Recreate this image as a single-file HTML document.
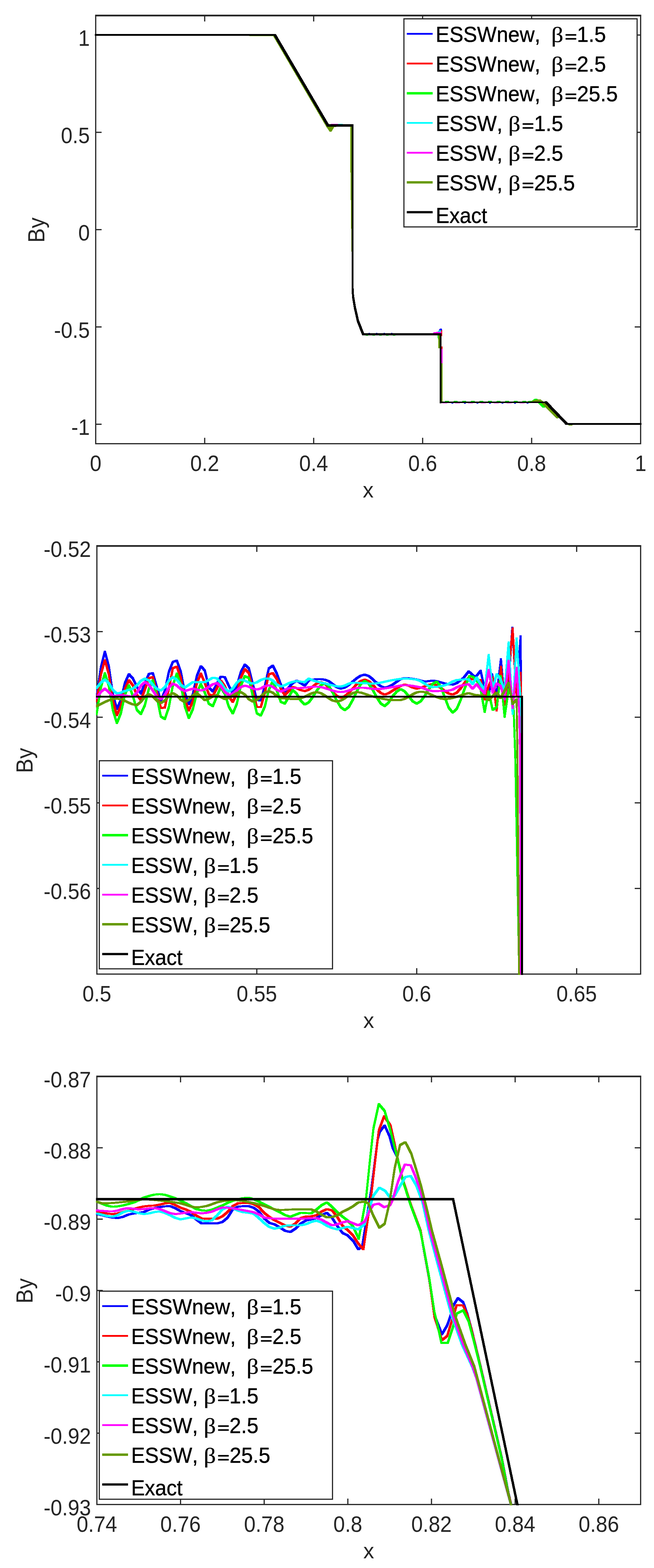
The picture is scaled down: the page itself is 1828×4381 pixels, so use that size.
<!DOCTYPE html>
<html lang="en">
<head>
<meta charset="utf-8">
<title>By profiles: ESSWnew vs ESSW vs Exact</title>
<style>
html,body{margin:0;padding:0;background:#ffffff;}
body{width:1828px;height:4381px;}
svg{display:block;}
text{white-space:pre;font-kerning:none;font-variant-ligatures:none;}
</style>
</head>
<body>
<svg width="1828" height="4381" viewBox="0 0 1828 4381">
<rect x="0" y="0" width="1828" height="4381" fill="#ffffff"/>
<clipPath id="clip1"><rect x="265.00" y="41.00" width="1528.10" height="1201.20"/></clipPath>
<g stroke="#262626" stroke-width="3.3" fill="none" stroke-linecap="butt">
<rect x="267.50" y="43.50" width="1523.10" height="1196.20"/>
<line x1="265.90" y1="43.40" x2="1792.20" y2="43.40" stroke-width="4.7"/>
<line x1="572.12" y1="1239.70" x2="572.12" y2="1223.20"/>
<line x1="572.12" y1="43.50" x2="572.12" y2="60.00"/>
<line x1="876.74" y1="1239.70" x2="876.74" y2="1223.20"/>
<line x1="876.74" y1="43.50" x2="876.74" y2="60.00"/>
<line x1="1181.36" y1="1239.70" x2="1181.36" y2="1223.20"/>
<line x1="1181.36" y1="43.50" x2="1181.36" y2="60.00"/>
<line x1="1485.98" y1="1239.70" x2="1485.98" y2="1223.20"/>
<line x1="1485.98" y1="43.50" x2="1485.98" y2="60.00"/>
<line x1="267.50" y1="97.87" x2="284.00" y2="97.87"/>
<line x1="1790.60" y1="97.87" x2="1774.10" y2="97.87"/>
<line x1="267.50" y1="369.74" x2="284.00" y2="369.74"/>
<line x1="1790.60" y1="369.74" x2="1774.10" y2="369.74"/>
<line x1="267.50" y1="641.60" x2="284.00" y2="641.60"/>
<line x1="1790.60" y1="641.60" x2="1774.10" y2="641.60"/>
<line x1="267.50" y1="913.46" x2="284.00" y2="913.46"/>
<line x1="1790.60" y1="913.46" x2="1774.10" y2="913.46"/>
<line x1="267.50" y1="1185.33" x2="284.00" y2="1185.33"/>
<line x1="1790.60" y1="1185.33" x2="1774.10" y2="1185.33"/>
</g>
<text transform="translate(267.50 1315.90) scale(1 1.07)" font-family="'Liberation Sans', sans-serif" font-size="58.1" text-anchor="middle" fill="#262626">0</text>
<text transform="translate(572.12 1315.90) scale(1 1.07)" font-family="'Liberation Sans', sans-serif" font-size="58.1" text-anchor="middle" fill="#262626">0.2</text>
<text transform="translate(876.74 1315.90) scale(1 1.07)" font-family="'Liberation Sans', sans-serif" font-size="58.1" text-anchor="middle" fill="#262626">0.4</text>
<text transform="translate(1181.36 1315.90) scale(1 1.07)" font-family="'Liberation Sans', sans-serif" font-size="58.1" text-anchor="middle" fill="#262626">0.6</text>
<text transform="translate(1485.98 1315.90) scale(1 1.07)" font-family="'Liberation Sans', sans-serif" font-size="58.1" text-anchor="middle" fill="#262626">0.8</text>
<text transform="translate(1790.60 1315.90) scale(1 1.07)" font-family="'Liberation Sans', sans-serif" font-size="58.1" text-anchor="middle" fill="#262626">1</text>
<text transform="translate(251.00 127.97) scale(1 1.07)" font-family="'Liberation Sans', sans-serif" font-size="58.1" text-anchor="end" fill="#262626">1</text>
<text transform="translate(251.00 399.84) scale(1 1.07)" font-family="'Liberation Sans', sans-serif" font-size="58.1" text-anchor="end" fill="#262626">0.5</text>
<text transform="translate(251.00 671.70) scale(1 1.07)" font-family="'Liberation Sans', sans-serif" font-size="58.1" text-anchor="end" fill="#262626">0</text>
<text transform="translate(251.00 943.56) scale(1 1.07)" font-family="'Liberation Sans', sans-serif" font-size="58.1" text-anchor="end" fill="#262626">-0.5</text>
<text transform="translate(251.00 1215.43) scale(1 1.07)" font-family="'Liberation Sans', sans-serif" font-size="58.1" text-anchor="end" fill="#262626">-1</text>
<text transform="translate(1029.05 1390.10) scale(1 1.01)" font-family="'Liberation Sans', sans-serif" font-size="60.5" text-anchor="middle" fill="#262626">x</text>
<text transform="translate(124.30 642.80) rotate(-90) scale(1 1.075)" font-family="'Liberation Sans', sans-serif" font-size="60.5" text-anchor="middle" fill="#262626">By</text>
<g clip-path="url(#clip1)" fill="none" stroke-linejoin="round" stroke-linecap="butt" shape-rendering="crispEdges">
<path d="M1215.2,928.9L1224.2,926.7L1229.8,926.7L1229.8,932.1L1220.8,934.3L1215.2,934.3ZM1224.2,926.7L1229.8,917.8L1235.4,917.8L1235.4,923.2L1229.8,932.1L1224.2,932.1ZM1229.8,917.8L1235.4,917.8L1236,933.3L1236,938.7L1230.4,938.7L1229.8,923.2Z" fill="#0000ff" stroke="none"/>
<polyline points="1030,932.3 1112,932.3" stroke="#0000ff" stroke-width="5.6" stroke-dasharray="4 17"/>
<polyline points="1262,1125.2 1478,1125.2" stroke="#0000ff" stroke-width="4.6" stroke-dasharray="5 30"/>
<path d="M1219.2,928.7L1226.2,925.3L1231.8,925.3L1231.8,930.7L1224.8,934.1L1219.2,934.1ZM1226.2,925.3L1230.8,923.3L1236.4,923.3L1236.4,928.7L1231.8,930.7L1226.2,930.7ZM1230.8,923.3L1236.4,923.3L1236.4,938.7L1230.8,938.7Z" fill="#ff0000" stroke="none"/>
<path d="M1231,968.3L1236.6,968.3L1236.6,982.7L1231,982.7Z" fill="#ff0000" stroke="none"/>
<path d="M1475.2,1120.7L1487.2,1119.5L1492.8,1119.5L1492.8,1124.9L1480.8,1126.1L1475.2,1126.1ZM1487.2,1119.5L1494.8,1113.5L1500.4,1113.5L1500.4,1118.9L1492.8,1124.9L1487.2,1124.9ZM1494.8,1113.5L1500.4,1113.5L1506.3,1117.8L1506.3,1123.2L1500.7,1123.2L1494.8,1118.9ZM1500.7,1117.8L1506.3,1117.8L1513.8,1125.8L1513.8,1131.2L1508.2,1131.2L1500.7,1123.2ZM1508.2,1125.8L1513.8,1125.8L1522,1133.5L1522,1138.9L1516.4,1138.9L1508.2,1131.2ZM1516.4,1133.5L1524.2,1130.8L1529.8,1130.8L1529.8,1136.2L1522,1138.9L1516.4,1138.9Z" fill="#00ff00" stroke="none"/>
<path d="M1222.7,933.8L1228.3,933.8L1229.8,942.3L1229.8,947.7L1224.2,947.7L1222.7,939.2Z" fill="#00ff00" stroke="none"/>
<polyline points="1244,1122.9 1478,1122.9" stroke="#00ff00" stroke-width="5" stroke-dasharray="11 13"/>
<polyline points="1022,935 1112,935" stroke="#00ff00" stroke-width="5.6" stroke-dasharray="7 12"/>
<path d="M939.2,345.7L950.3,345.7L950.3,351.1L939.2,351.1Z" fill="#00ffff" stroke="none"/>
<path d="M946.7,345.7L958.3,345.7L958.3,351.1L946.7,351.1Z" fill="#00ffff" stroke="none"/>
<path d="M1221.2,927.8L1226.7,922.8L1232.3,922.8L1232.3,928.2L1226.8,933.2L1221.2,933.2ZM1226.7,922.8L1232.3,922.8L1233.8,928.3L1233.8,933.7L1228.2,933.7L1226.7,928.2Z" fill="#00ffff" stroke="none"/>
<polyline points="1236,1125 1470,1125" stroke="#ff00ff" stroke-width="4.6" stroke-dasharray="14 22"/>
<path d="M924.7,345.6L944.8,345.6L944.8,351L924.7,351Z" fill="#ff00ff" stroke="none"/>
<path d="M1211.2,928.7L1224.2,926.8L1229.8,926.8L1229.8,932.2L1216.8,934.1L1211.2,934.1ZM1224.2,926.8L1233.8,926.8L1233.8,932.2L1224.2,932.2Z" fill="#ff00ff" stroke="none"/>
<path d="M1231,975.3L1236.6,975.3L1236.6,1020.7L1231,1020.7Z" fill="#ff00ff" stroke="none"/>
<path d="M697.2,95.9L769.2,95.9L769.2,101.3L697.2,101.3ZM763.6,95.9L769.2,95.9L917.8,349.3L917.8,354.7L912.2,354.7L763.6,101.3ZM912.2,349.3L917.8,349.3L926.8,362.3L926.8,367.7L921.2,367.7L912.2,354.7ZM921.2,362.3L928.7,349.3L934.3,349.3L934.3,354.7L926.8,367.7L921.2,367.7ZM928.7,349.3L957.2,348.3L962.8,348.3L962.8,353.7L934.3,354.7L928.7,354.7Z" fill="#669900" stroke="none"/>
<path d="M915.7,351.8L921.3,351.8L926.8,358.3L926.8,363.7L921.2,363.7L915.7,357.2ZM921.2,358.3L926.2,351.8L931.8,351.8L931.8,357.2L926.8,363.7L921.2,363.7Z" fill="#669900" stroke="none"/>
<path d="M978.5,348.3L984.1,348.3L985,467.3L985,472.7L979.4,472.7L978.5,353.7ZM979.4,467.3L985,467.3L987,622.3L987,627.7L981.4,627.7L979.4,472.7ZM981.4,622.3L987,622.3L987.8,697.3L987.8,702.7L982.2,702.7L981.4,627.7Z" fill="#669900" stroke="none"/>
<path d="M1225.4,933.3L1231,933.3L1231.1,967.3L1231.1,972.7L1225.5,972.7L1225.4,938.7Z" fill="#669900" stroke="none"/>
<path d="M1231.1,1015.3L1236.7,1015.3L1236.7,1124.7L1231.1,1124.7Z" fill="#669900" stroke="none"/>
<path d="M1485.2,1120.9L1497.2,1116.7L1502.8,1116.7L1502.8,1122.1L1490.8,1126.3L1485.2,1126.3ZM1497.2,1116.7L1505.2,1115.7L1510.8,1115.7L1510.8,1121.1L1502.8,1122.1L1497.2,1122.1ZM1505.2,1115.7L1510.8,1115.7L1518.8,1121.8L1518.8,1127.2L1513.2,1127.2L1505.2,1121.1ZM1513.2,1121.8L1518.8,1121.8L1526.1,1128.3L1526.1,1133.7L1520.5,1133.7L1513.2,1127.2ZM1520.5,1128.3L1526.1,1128.3L1560.8,1163.8L1560.8,1169.2L1555.2,1169.2L1520.5,1133.7Z" fill="#669900" stroke="none"/>
<path d="M1589.2,1183.9L1599.8,1183.9L1599.8,1189.3L1589.2,1189.3Z" fill="#669900" stroke="none"/>
<path d="M264.7,95.2L771,95.2L771,100L264.7,100ZM765.4,94.8L771,94.8L919.5,347.8L919.5,353.2L913.9,353.2L765.4,100.3ZM913.9,347.4L988.2,347.4L988.2,353.6L913.9,353.6ZM982.8,347.8L988,347.8L988.1,802.2L988.1,807.8L982.9,807.8L982.8,353.2ZM982.7,802.2L988.3,802.2L989.7,826.2L989.7,831.8L984.1,831.8L982.7,807.8ZM984.1,826.2L989.7,826.2L994.5,855.2L994.5,860.8L988.9,860.8L984.1,831.8ZM988.9,855.2L994.5,855.2L1003.3,894.2L1003.3,899.8L997.7,899.8L988.9,860.8ZM997.7,894.2L1003.3,894.2L1017.8,930.9L1017.8,936.4L1012.2,936.4L997.7,899.8ZM1012.2,930.5L1234.1,930.5L1234.1,936.7L1012.2,936.7ZM1228.8,930.9L1233.8,930.9L1233.8,1126.8L1228.8,1126.8ZM1228.5,1121.8L1528.8,1121.8L1528.8,1126.2L1228.5,1126.2ZM1523.2,1121.2L1528.8,1121.2L1586.8,1181.8L1586.8,1187.3L1581.2,1187.3L1523.2,1126.8ZM1581.2,1182L1793.4,1182L1793.4,1187.2L1581.2,1187.2Z" fill="#000000" stroke="none"/>
</g>
<rect x="1129.00" y="52.60" width="651.80" height="581.40" fill="#fff" stroke="#262626" stroke-width="3.2"/>
<g>
<line x1="1137.00" y1="94.40" x2="1209.30" y2="94.40" stroke="#0000ff" stroke-width="5"/>
<text transform="translate(1217.85 116.80) scale(0.9977 1.0445)" font-family="'Liberation Sans', sans-serif" font-size="58" fill="#000" stroke="#000" stroke-width="0.62231" stroke-linejoin="round">ESSWnew,  </text>
<text transform="translate(1540.70 116.83) scale(1.1498 1.0341)" font-family="'Liberation Serif', serif" font-size="58" fill="#000" stroke="#000" stroke-width="0.434844" stroke-linejoin="round">β</text>
<text transform="translate(1578.76 116.79) scale(1.0043 0.7383)" font-family="'Liberation Sans', sans-serif" font-size="58" fill="#000" stroke="#000" stroke-width="1.69271" stroke-linejoin="round">=</text>
<text transform="translate(1612.53 116.80) scale(1.0000 1.0510)" font-family="'Liberation Sans', sans-serif" font-size="58.5" fill="#000" stroke="#000" stroke-width="0.618458" stroke-linejoin="round">1.5</text>
</g>
<g>
<line x1="1137.00" y1="177.60" x2="1209.30" y2="177.60" stroke="#ff0000" stroke-width="5"/>
<text transform="translate(1217.85 200.00) scale(0.9977 1.0445)" font-family="'Liberation Sans', sans-serif" font-size="58" fill="#000" stroke="#000" stroke-width="0.62231" stroke-linejoin="round">ESSWnew,  </text>
<text transform="translate(1540.70 200.03) scale(1.1498 1.0341)" font-family="'Liberation Serif', serif" font-size="58" fill="#000" stroke="#000" stroke-width="0.434844" stroke-linejoin="round">β</text>
<text transform="translate(1578.76 199.99) scale(1.0043 0.7383)" font-family="'Liberation Sans', sans-serif" font-size="58" fill="#000" stroke="#000" stroke-width="1.69271" stroke-linejoin="round">=</text>
<text transform="translate(1612.53 200.00) scale(1.0000 1.0356)" font-family="'Liberation Sans', sans-serif" font-size="58.5" fill="#000" stroke="#000" stroke-width="0.627675" stroke-linejoin="round">2.5</text>
</g>
<g>
<line x1="1137.00" y1="260.60" x2="1209.30" y2="260.60" stroke="#00ff00" stroke-width="6.8"/>
<text transform="translate(1217.85 283.00) scale(0.9977 1.0445)" font-family="'Liberation Sans', sans-serif" font-size="58" fill="#000" stroke="#000" stroke-width="0.62231" stroke-linejoin="round">ESSWnew,  </text>
<text transform="translate(1540.70 283.03) scale(1.1498 1.0341)" font-family="'Liberation Serif', serif" font-size="58" fill="#000" stroke="#000" stroke-width="0.434844" stroke-linejoin="round">β</text>
<text transform="translate(1578.76 282.99) scale(1.0043 0.7383)" font-family="'Liberation Sans', sans-serif" font-size="58" fill="#000" stroke="#000" stroke-width="1.69271" stroke-linejoin="round">=</text>
<text transform="translate(1613.00 283.00) scale(1.0000 1.0356)" font-family="'Liberation Sans', sans-serif" font-size="58.5" fill="#000" stroke="#000" stroke-width="0.627675" stroke-linejoin="round">25.5</text>
</g>
<g>
<line x1="1137.00" y1="343.40" x2="1209.30" y2="343.40" stroke="#00ffff" stroke-width="4.9"/>
<text transform="translate(1217.84 365.80) scale(0.9997 1.0445)" font-family="'Liberation Sans', sans-serif" font-size="58" fill="#000" stroke="#000" stroke-width="0.62231" stroke-linejoin="round">ESSW, </text>
<text transform="translate(1420.80 365.83) scale(1.1498 1.0341)" font-family="'Liberation Serif', serif" font-size="58" fill="#000" stroke="#000" stroke-width="0.434844" stroke-linejoin="round">β</text>
<text transform="translate(1458.86 365.79) scale(1.0043 0.7383)" font-family="'Liberation Sans', sans-serif" font-size="58" fill="#000" stroke="#000" stroke-width="1.69271" stroke-linejoin="round">=</text>
<text transform="translate(1492.63 365.80) scale(1.0000 1.0510)" font-family="'Liberation Sans', sans-serif" font-size="58.5" fill="#000" stroke="#000" stroke-width="0.618458" stroke-linejoin="round">1.5</text>
</g>
<g>
<line x1="1137.00" y1="426.80" x2="1209.30" y2="426.80" stroke="#ff00ff" stroke-width="4.9"/>
<text transform="translate(1217.84 449.20) scale(0.9997 1.0445)" font-family="'Liberation Sans', sans-serif" font-size="58" fill="#000" stroke="#000" stroke-width="0.62231" stroke-linejoin="round">ESSW, </text>
<text transform="translate(1420.80 449.23) scale(1.1498 1.0341)" font-family="'Liberation Serif', serif" font-size="58" fill="#000" stroke="#000" stroke-width="0.434844" stroke-linejoin="round">β</text>
<text transform="translate(1458.86 449.19) scale(1.0043 0.7383)" font-family="'Liberation Sans', sans-serif" font-size="58" fill="#000" stroke="#000" stroke-width="1.69271" stroke-linejoin="round">=</text>
<text transform="translate(1492.63 449.20) scale(1.0000 1.0356)" font-family="'Liberation Sans', sans-serif" font-size="58.5" fill="#000" stroke="#000" stroke-width="0.627675" stroke-linejoin="round">2.5</text>
</g>
<g>
<line x1="1137.00" y1="509.50" x2="1209.30" y2="509.50" stroke="#669900" stroke-width="6.6"/>
<text transform="translate(1217.84 531.90) scale(0.9997 1.0445)" font-family="'Liberation Sans', sans-serif" font-size="58" fill="#000" stroke="#000" stroke-width="0.62231" stroke-linejoin="round">ESSW, </text>
<text transform="translate(1420.80 531.93) scale(1.1498 1.0341)" font-family="'Liberation Serif', serif" font-size="58" fill="#000" stroke="#000" stroke-width="0.434844" stroke-linejoin="round">β</text>
<text transform="translate(1458.86 531.89) scale(1.0043 0.7383)" font-family="'Liberation Sans', sans-serif" font-size="58" fill="#000" stroke="#000" stroke-width="1.69271" stroke-linejoin="round">=</text>
<text transform="translate(1493.10 531.90) scale(1.0000 1.0356)" font-family="'Liberation Sans', sans-serif" font-size="58.5" fill="#000" stroke="#000" stroke-width="0.627675" stroke-linejoin="round">25.5</text>
</g>
<g>
<line x1="1137.00" y1="592.80" x2="1209.30" y2="592.80" stroke="#000000" stroke-width="6.3"/>
<text transform="translate(1217.89 622.80) scale(0.9909 1.0601)" font-family="'Liberation Sans', sans-serif" font-size="58" fill="#000" stroke="#000" stroke-width="0.613172" stroke-linejoin="round">Exact</text>
</g>
<clipPath id="clip2"><rect x="268.30" y="1523.00" width="1524.80" height="1201.10"/></clipPath>
<g stroke="#262626" stroke-width="3.3" fill="none" stroke-linecap="butt">
<rect x="270.80" y="1525.50" width="1519.80" height="1196.10"/>
<line x1="269.20" y1="1525.40" x2="1792.20" y2="1525.40" stroke-width="4.7"/>
<line x1="717.80" y1="2721.60" x2="717.80" y2="2705.10"/>
<line x1="717.80" y1="1525.50" x2="717.80" y2="1542.00"/>
<line x1="1164.80" y1="2721.60" x2="1164.80" y2="2705.10"/>
<line x1="1164.80" y1="1525.50" x2="1164.80" y2="1542.00"/>
<line x1="1611.80" y1="2721.60" x2="1611.80" y2="2705.10"/>
<line x1="1611.80" y1="1525.50" x2="1611.80" y2="1542.00"/>
<line x1="270.80" y1="1764.72" x2="287.30" y2="1764.72"/>
<line x1="1790.60" y1="1764.72" x2="1774.10" y2="1764.72"/>
<line x1="270.80" y1="2003.94" x2="287.30" y2="2003.94"/>
<line x1="1790.60" y1="2003.94" x2="1774.10" y2="2003.94"/>
<line x1="270.80" y1="2243.16" x2="287.30" y2="2243.16"/>
<line x1="1790.60" y1="2243.16" x2="1774.10" y2="2243.16"/>
<line x1="270.80" y1="2482.38" x2="287.30" y2="2482.38"/>
<line x1="1790.60" y1="2482.38" x2="1774.10" y2="2482.38"/>
</g>
<text transform="translate(270.80 2797.80) scale(1 1.07)" font-family="'Liberation Sans', sans-serif" font-size="58.1" text-anchor="middle" fill="#262626">0.5</text>
<text transform="translate(717.80 2797.80) scale(1 1.07)" font-family="'Liberation Sans', sans-serif" font-size="58.1" text-anchor="middle" fill="#262626">0.55</text>
<text transform="translate(1164.80 2797.80) scale(1 1.07)" font-family="'Liberation Sans', sans-serif" font-size="58.1" text-anchor="middle" fill="#262626">0.6</text>
<text transform="translate(1611.80 2797.80) scale(1 1.07)" font-family="'Liberation Sans', sans-serif" font-size="58.1" text-anchor="middle" fill="#262626">0.65</text>
<text transform="translate(254.30 1555.60) scale(1 1.07)" font-family="'Liberation Sans', sans-serif" font-size="58.1" text-anchor="end" fill="#262626">-0.52</text>
<text transform="translate(254.30 1794.82) scale(1 1.07)" font-family="'Liberation Sans', sans-serif" font-size="58.1" text-anchor="end" fill="#262626">-0.53</text>
<text transform="translate(254.30 2034.04) scale(1 1.07)" font-family="'Liberation Sans', sans-serif" font-size="58.1" text-anchor="end" fill="#262626">-0.54</text>
<text transform="translate(254.30 2273.26) scale(1 1.07)" font-family="'Liberation Sans', sans-serif" font-size="58.1" text-anchor="end" fill="#262626">-0.55</text>
<text transform="translate(254.30 2512.48) scale(1 1.07)" font-family="'Liberation Sans', sans-serif" font-size="58.1" text-anchor="end" fill="#262626">-0.56</text>
<text transform="translate(1030.70 2872.00) scale(1 1.01)" font-family="'Liberation Sans', sans-serif" font-size="60.5" text-anchor="middle" fill="#262626">x</text>
<text transform="translate(90.60 2124.75) rotate(-90) scale(1 1.075)" font-family="'Liberation Sans', sans-serif" font-size="60.5" text-anchor="middle" fill="#262626">By</text>
<g clip-path="url(#clip2)" fill="none" stroke-linejoin="round" stroke-linecap="butt" shape-rendering="crispEdges">
<path d="M267,1945L268,1939.1L273.6,1939.1L273.6,1944.5L272.6,1950.4L267,1950.4ZM268,1939.1L279.2,1862.1L284.8,1862.1L284.8,1867.5L273.6,1944.5L268,1944.5ZM279.2,1862.1L290.4,1818L296,1818L296,1823.4L284.8,1867.5L279.2,1867.5ZM290.4,1818L296,1818L307.1,1859.6L307.1,1865L301.5,1865L290.4,1823.4ZM301.5,1859.6L307.1,1859.6L318.3,1936.9L318.3,1942.3L312.7,1942.3L301.5,1865ZM312.7,1936.9L318.3,1936.9L329.5,1978.5L329.5,1983.9L323.9,1983.9L312.7,1942.3ZM323.9,1978.5L335.1,1953.1L340.7,1953.1L340.7,1958.5L329.5,1983.9L323.9,1983.9ZM335.1,1953.1L346.2,1906.1L351.8,1906.1L351.8,1911.5L340.7,1958.5L335.1,1958.5ZM346.2,1906.1L357.4,1880.8L363,1880.8L363,1886.2L351.8,1911.5L346.2,1911.5ZM357.4,1880.8L363,1880.8L374.2,1892.8L374.2,1898.2L368.6,1898.2L357.4,1886.2ZM368.6,1892.8L374.2,1892.8L385.4,1915.9L385.4,1921.3L379.8,1921.3L368.6,1898.2ZM379.8,1915.9L385.4,1915.9L396.5,1935.2L396.5,1940.6L390.9,1940.6L379.8,1921.3ZM390.9,1935.2L402.1,1906.8L407.7,1906.8L407.7,1912.2L396.5,1940.6L390.9,1940.6ZM402.1,1906.8L413.3,1880.3L418.9,1880.3L418.9,1885.7L407.7,1912.2L402.1,1912.2ZM413.3,1880.3L424.4,1878L430,1878L430,1883.4L418.9,1885.7L413.3,1885.7ZM424.4,1878L430,1878L441.2,1917.1L441.2,1922.5L435.6,1922.5L424.4,1883.4ZM435.6,1917.1L441.2,1917.1L452.4,1956.1L452.4,1961.5L446.8,1961.5L435.6,1922.5ZM446.8,1956.1L458,1927.4L463.6,1927.4L463.6,1932.8L452.4,1961.5L446.8,1961.5ZM458,1927.4L469.2,1874.4L474.8,1874.4L474.8,1879.8L463.6,1932.8L458,1932.8ZM469.2,1874.4L480.3,1846.6L485.9,1846.6L485.9,1852L474.8,1879.8L469.2,1879.8ZM480.3,1846.6L491.5,1843.1L497.1,1843.1L497.1,1848.5L485.9,1852L480.3,1852ZM491.5,1843.1L497.1,1843.1L508.3,1874.6L508.3,1880L502.7,1880L491.5,1848.5ZM502.7,1874.6L508.3,1874.6L519.5,1933L519.5,1938.4L513.9,1938.4L502.7,1880ZM513.9,1933L519.5,1933L530.6,1964.5L530.6,1969.9L525,1969.9L513.9,1938.4ZM525,1964.5L536.2,1937L541.8,1937L541.8,1942.4L530.6,1969.9L525,1969.9ZM536.2,1937L547.4,1886L553,1886L553,1891.4L541.8,1942.4L536.2,1942.4ZM547.4,1886L558.6,1858.5L564.2,1858.5L564.2,1863.9L553,1891.4L547.4,1891.4ZM558.6,1858.5L564.2,1858.5L575.3,1870.7L575.3,1876.1L569.7,1876.1L558.6,1863.9ZM569.7,1870.7L575.3,1870.7L586.5,1917.8L586.5,1923.2L580.9,1923.2L569.7,1876.1ZM580.9,1917.8L586.5,1917.8L597.7,1929.6L597.7,1935L592.1,1935L580.9,1923.2ZM592.1,1929.6L603.2,1908.7L608.8,1908.7L608.8,1914.1L597.7,1935L592.1,1935ZM603.2,1908.7L614.4,1887.8L620,1887.8L620,1893.2L608.8,1914.1L603.2,1914.1ZM614.4,1887.8L620,1887.8L631.2,1889.3L631.2,1894.7L625.6,1894.7L614.4,1893.2ZM625.6,1889.3L631.2,1889.3L642.4,1913.5L642.4,1918.9L636.8,1918.9L625.6,1894.7ZM636.8,1913.5L642.4,1913.5L653.6,1935.2L653.6,1940.6L648,1940.6L636.8,1918.9ZM648,1935.2L659.1,1914.2L664.7,1914.2L664.7,1919.6L653.6,1940.6L648,1940.6ZM659.1,1914.2L670.3,1875.3L675.9,1875.3L675.9,1880.7L664.7,1919.6L659.1,1919.6ZM670.3,1875.3L681.5,1854.3L687.1,1854.3L687.1,1859.7L675.9,1880.7L670.3,1880.7ZM681.5,1854.3L687.1,1854.3L698.3,1864.3L698.3,1869.7L692.7,1869.7L681.5,1859.7ZM692.7,1864.3L698.3,1864.3L709.4,1908.2L709.4,1913.6L703.8,1913.6L692.7,1869.7ZM703.8,1908.2L709.4,1908.2L720.6,1952.9L720.6,1958.3L715,1958.3L703.8,1913.6ZM715,1952.9L720.6,1952.9L731.8,1954.7L731.8,1960.1L726.2,1960.1L715,1958.3ZM726.2,1954.7L737.4,1914.6L743,1914.6L743,1920L731.8,1960.1L726.2,1960.1ZM737.4,1914.6L748.5,1865.1L754.1,1865.1L754.1,1870.5L743,1920L737.4,1920ZM748.5,1865.1L759.7,1857.1L765.3,1857.1L765.3,1862.5L754.1,1870.5L748.5,1870.5ZM759.7,1857.1L765.3,1857.1L776.5,1879.1L776.5,1884.5L770.9,1884.5L759.7,1862.5ZM770.9,1879.1L776.5,1879.1L787.7,1909.8L787.7,1915.2L782.1,1915.2L770.9,1884.5ZM782.1,1909.8L787.7,1909.8L798.8,1929.6L798.8,1935L793.2,1935L782.1,1915.2ZM793.2,1929.6L804.4,1917.8L810,1917.8L810,1923.2L798.8,1935L793.2,1935ZM804.4,1917.8L815.6,1905.8L821.2,1905.8L821.2,1911.2L810,1923.2L804.4,1923.2ZM815.6,1905.8L826.7,1898.9L832.3,1898.9L832.3,1904.3L821.2,1911.2L815.6,1911.2ZM826.7,1898.9L832.3,1898.9L843.5,1906.1L843.5,1911.5L837.9,1911.5L826.7,1904.3ZM837.9,1906.1L843.5,1906.1L854.7,1912.9L854.7,1918.3L849.1,1918.3L837.9,1911.5ZM849.1,1912.9L860.3,1898.4L865.9,1898.4L865.9,1903.8L854.7,1918.3L849.1,1918.3ZM860.3,1898.4L871.4,1896.1L877,1896.1L877,1901.5L865.9,1903.8L860.3,1903.8ZM871.4,1896.1L882.6,1895.1L888.2,1895.1L888.2,1900.5L877,1901.5L871.4,1901.5ZM882.6,1895.1L893.8,1894.7L899.4,1894.7L899.4,1900.1L888.2,1900.5L882.6,1900.5ZM893.8,1894.7L899.4,1894.7L910.6,1896.4L910.6,1901.8L905,1901.8L893.8,1900.1ZM905,1896.4L910.6,1896.4L921.8,1900.6L921.8,1906L916.2,1906L905,1901.8ZM916.2,1900.6L921.8,1900.6L932.9,1908.9L932.9,1914.3L927.3,1914.3L916.2,1906ZM927.3,1908.9L932.9,1908.9L944.1,1917.4L944.1,1922.8L938.5,1922.8L927.3,1914.3ZM938.5,1917.4L944.1,1917.4L955.3,1921.3L955.3,1926.7L949.7,1926.7L938.5,1922.8ZM949.7,1921.3L960.9,1918.4L966.5,1918.4L966.5,1923.8L955.3,1926.7L949.7,1926.7ZM960.9,1918.4L972,1911.1L977.6,1911.1L977.6,1916.5L966.5,1923.8L960.9,1923.8ZM972,1911.1L983.2,1901.7L988.8,1901.7L988.8,1907.1L977.6,1916.5L972,1916.5ZM983.2,1901.7L994.4,1892.3L1000,1892.3L1000,1897.7L988.8,1907.1L983.2,1907.1ZM994.4,1892.3L1005.6,1885.1L1011.2,1885.1L1011.2,1890.5L1000,1897.7L994.4,1897.7ZM1005.6,1885.1L1016.7,1882.2L1022.3,1882.2L1022.3,1887.6L1011.2,1890.5L1005.6,1890.5ZM1016.7,1882.2L1022.3,1882.2L1033.5,1886L1033.5,1891.4L1027.9,1891.4L1016.7,1887.6ZM1027.9,1886L1033.5,1886L1044.7,1895L1044.7,1900.4L1039.1,1900.4L1027.9,1891.4ZM1039.1,1895L1044.7,1895L1055.8,1905.7L1055.8,1911.1L1050.2,1911.1L1039.1,1900.4ZM1050.2,1905.7L1055.8,1905.7L1067,1914.7L1067,1920.1L1061.4,1920.1L1050.2,1911.1ZM1061.4,1914.7L1067,1914.7L1078.2,1918.5L1078.2,1923.9L1072.6,1923.9L1061.4,1920.1ZM1072.6,1918.5L1083.8,1915.7L1089.4,1915.7L1089.4,1921.1L1078.2,1923.9L1072.6,1923.9ZM1083.8,1915.7L1095,1909.9L1100.6,1909.9L1100.6,1915.3L1089.4,1921.1L1083.8,1921.1ZM1095,1909.9L1106.1,1902L1111.7,1902L1111.7,1907.4L1100.6,1915.3L1095,1915.3ZM1106.1,1902L1117.3,1894.5L1122.9,1894.5L1122.9,1899.9L1111.7,1907.4L1106.1,1907.4ZM1117.3,1894.5L1128.5,1892L1134.1,1892L1134.1,1897.4L1122.9,1899.9L1117.3,1899.9ZM1128.5,1892L1134.1,1892L1145.3,1892.5L1145.3,1897.9L1139.7,1897.9L1128.5,1897.4ZM1139.7,1892.5L1145.3,1892.5L1156.4,1893.9L1156.4,1899.3L1150.8,1899.3L1139.7,1897.9ZM1150.8,1893.9L1156.4,1893.9L1167.6,1895.8L1167.6,1901.2L1162,1901.2L1150.8,1899.3ZM1162,1895.8L1167.6,1895.8L1178.8,1899L1178.8,1904.4L1173.2,1904.4L1162,1901.2ZM1173.2,1899L1178.8,1899L1190,1901.7L1190,1907.1L1184.4,1907.1L1173.2,1904.4ZM1184.4,1901.7L1195.5,1900.3L1201.1,1900.3L1201.1,1905.7L1190,1907.1L1184.4,1907.1ZM1195.5,1900.3L1206.7,1898.9L1212.3,1898.9L1212.3,1904.3L1201.1,1905.7L1195.5,1905.7ZM1206.7,1898.9L1212.3,1898.9L1223.5,1900.5L1223.5,1905.9L1217.9,1905.9L1206.7,1904.3ZM1217.9,1900.5L1223.5,1900.5L1234.7,1903.8L1234.7,1909.2L1229.1,1909.2L1217.9,1905.9ZM1229.1,1903.8L1234.7,1903.8L1245.8,1906.9L1245.8,1912.3L1240.2,1912.3L1229.1,1909.2ZM1240.2,1906.9L1245.8,1906.9L1257,1908.9L1257,1914.3L1251.4,1914.3L1240.2,1912.3ZM1251.4,1908.9L1257,1908.9L1268.2,1910.1L1268.2,1915.5L1262.6,1915.5L1251.4,1914.3ZM1262.6,1910.1L1273.8,1906L1279.4,1906L1279.4,1911.4L1268.2,1915.5L1262.6,1915.5ZM1273.8,1906L1284.9,1897.4L1290.5,1897.4L1290.5,1902.8L1279.4,1911.4L1273.8,1911.4ZM1284.9,1897.4L1292.5,1892L1298.1,1892L1298.1,1897.4L1290.5,1902.8L1284.9,1902.8ZM1292.5,1892L1307.2,1873.1L1312.8,1873.1L1312.8,1878.5L1298.1,1897.4L1292.5,1897.4ZM1307.2,1873.1L1312.8,1873.1L1331.4,1889.9L1331.4,1895.3L1325.8,1895.3L1307.2,1878.5ZM1325.8,1889.9L1340.7,1871.3L1346.3,1871.3L1346.3,1876.7L1331.4,1895.3L1325.8,1895.3ZM1340.7,1871.3L1346.3,1871.3L1357.5,1923.3L1357.5,1928.7L1351.9,1928.7L1340.7,1876.7ZM1351.9,1923.3L1357.5,1923.3L1368.6,1942L1368.6,1947.4L1363,1947.4L1351.9,1928.7ZM1363,1942L1372.3,1880.6L1377.9,1880.6L1377.9,1886L1368.6,1947.4L1363,1947.4ZM1372.3,1880.6L1377.9,1880.6L1390.9,1942L1390.9,1947.4L1385.3,1947.4L1372.3,1886ZM1385.3,1942L1397.4,1838.7L1403,1838.7L1403,1844.1L1390.9,1947.4L1385.3,1947.4ZM1397.4,1838.7L1403,1838.7L1413.3,1960.6L1413.3,1966L1407.7,1966L1397.4,1844.1ZM1407.7,1960.6L1418.8,1904.7L1424.4,1904.7L1424.4,1910.1L1413.3,1966L1407.7,1966ZM1418.8,1904.7L1429.1,1751.3L1434.7,1751.3L1434.7,1756.7L1424.4,1910.1L1418.8,1910.1ZM1429.1,1751.3L1434.7,1751.3L1446.8,1942L1446.8,1947.4L1441.2,1947.4L1429.1,1756.7ZM1441.2,1942L1452.3,1775.4L1457.9,1775.4L1457.9,1780.8L1446.8,1947.4L1441.2,1947.4ZM1452.3,1775.4L1457.9,1775.4L1459.4,1943.8L1459.4,1949.2L1453.8,1949.2L1452.3,1780.8ZM1453.8,1943.8L1459.4,1943.8L1460.7,2853.6L1460.7,2859L1455.1,2859L1453.8,1949.2Z" fill="#0000ff" stroke="none"/>
<path d="M267,1956.1L268,1950.9L273.6,1950.9L273.6,1956.3L272.6,1961.5L267,1961.5ZM268,1950.9L279.2,1881.5L284.8,1881.5L284.8,1886.9L273.6,1956.3L268,1956.3ZM279.2,1881.5L290.4,1841.7L296,1841.7L296,1847.1L284.8,1886.9L279.2,1886.9ZM290.4,1841.7L296,1841.7L307.1,1881.5L307.1,1886.9L301.5,1886.9L290.4,1847.1ZM301.5,1881.5L307.1,1881.5L318.3,1955.4L318.3,1960.8L312.7,1960.8L301.5,1886.9ZM312.7,1955.4L318.3,1955.4L329.5,1995.2L329.5,2000.6L323.9,2000.6L312.7,1960.8ZM323.9,1995.2L335.1,1969.9L340.7,1969.9L340.7,1975.3L329.5,2000.6L323.9,2000.6ZM335.1,1969.9L346.2,1922.9L351.8,1922.9L351.8,1928.3L340.7,1975.3L335.1,1975.3ZM346.2,1922.9L357.4,1897.5L363,1897.5L363,1902.9L351.8,1928.3L346.2,1928.3ZM357.4,1897.5L363,1897.5L374.2,1912L374.2,1917.4L368.6,1917.4L357.4,1902.9ZM368.6,1912L374.2,1912L385.4,1938.9L385.4,1944.3L379.8,1944.3L368.6,1917.4ZM379.8,1938.9L385.4,1938.9L396.5,1953.3L396.5,1958.7L390.9,1958.7L379.8,1944.3ZM390.9,1953.3L402.1,1924.3L407.7,1924.3L407.7,1929.7L396.5,1958.7L390.9,1958.7ZM402.1,1924.3L413.3,1892.1L418.9,1892.1L418.9,1897.5L407.7,1929.7L402.1,1929.7ZM413.3,1892.1L424.4,1889.2L430,1889.2L430,1894.6L418.9,1897.5L413.3,1897.5ZM424.4,1889.2L430,1889.2L441.2,1932.4L441.2,1937.8L435.6,1937.8L424.4,1894.6ZM435.6,1932.4L441.2,1932.4L452.4,1975.7L452.4,1981.1L446.8,1981.1L435.6,1937.8ZM446.8,1975.7L458,1974.3L463.6,1974.3L463.6,1979.7L452.4,1981.1L446.8,1981.1ZM458,1974.3L469.2,1921.4L474.8,1921.4L474.8,1926.8L463.6,1979.7L458,1979.7ZM469.2,1921.4L480.3,1864.1L485.9,1864.1L485.9,1869.5L474.8,1926.8L469.2,1926.8ZM480.3,1864.1L491.5,1859.9L497.1,1859.9L497.1,1865.3L485.9,1869.5L480.3,1869.5ZM491.5,1859.9L497.1,1859.9L508.3,1891.7L508.3,1897.1L502.7,1897.1L491.5,1865.3ZM502.7,1891.7L508.3,1891.7L519.5,1950.8L519.5,1956.2L513.9,1956.2L502.7,1897.1ZM513.9,1950.8L519.5,1950.8L530.6,1982.6L530.6,1988L525,1988L513.9,1956.2ZM525,1982.6L536.2,1955.9L541.8,1955.9L541.8,1961.3L530.6,1988L525,1988ZM536.2,1955.9L547.4,1906.2L553,1906.2L553,1911.6L541.8,1961.3L536.2,1961.3ZM547.4,1906.2L558.6,1879.4L564.2,1879.4L564.2,1884.8L553,1911.6L547.4,1911.6ZM558.6,1879.4L564.2,1879.4L575.3,1905.1L575.3,1910.5L569.7,1910.5L558.6,1884.8ZM569.7,1905.1L575.3,1905.1L586.5,1937.1L586.5,1942.5L580.9,1942.5L569.7,1910.5ZM580.9,1937.1L586.5,1937.1L597.7,1942.2L597.7,1947.6L592.1,1947.6L580.9,1942.5ZM592.1,1942.2L603.2,1920.6L608.8,1920.6L608.8,1926L597.7,1947.6L592.1,1947.6ZM603.2,1920.6L614.4,1898.9L620,1898.9L620,1904.3L608.8,1926L603.2,1926ZM614.4,1898.9L620,1898.9L631.2,1914.5L631.2,1919.9L625.6,1919.9L614.4,1904.3ZM625.6,1914.5L631.2,1914.5L642.4,1943.4L642.4,1948.8L636.8,1948.8L625.6,1919.9ZM636.8,1943.4L642.4,1943.4L653.6,1958.9L653.6,1964.3L648,1964.3L636.8,1948.8ZM648,1958.9L659.1,1935.1L664.7,1935.1L664.7,1940.5L653.6,1964.3L648,1964.3ZM659.1,1935.1L670.3,1890.7L675.9,1890.7L675.9,1896.1L664.7,1940.5L659.1,1940.5ZM670.3,1890.7L681.5,1866.8L687.1,1866.8L687.1,1872.2L675.9,1896.1L670.3,1896.1ZM681.5,1866.8L687.1,1866.8L698.3,1878.1L698.3,1883.5L692.7,1883.5L681.5,1872.2ZM692.7,1878.1L698.3,1878.1L709.4,1925.7L709.4,1931.1L703.8,1931.1L692.7,1883.5ZM703.8,1925.7L709.4,1925.7L720.6,1972.6L720.6,1978L715,1978L703.8,1931.1ZM715,1972.6L720.6,1972.6L731.8,1972.9L731.8,1978.3L726.2,1978.3L715,1978ZM726.2,1972.9L737.4,1932.8L743,1932.8L743,1938.2L731.8,1978.3L726.2,1978.3ZM737.4,1932.8L748.5,1881.4L754.1,1881.4L754.1,1886.8L743,1938.2L737.4,1938.2ZM748.5,1881.4L759.7,1878L765.3,1878L765.3,1883.4L754.1,1886.8L748.5,1886.8ZM759.7,1878L765.3,1878L776.5,1894.4L776.5,1899.8L770.9,1899.8L759.7,1883.4ZM770.9,1894.4L776.5,1894.4L787.7,1921.3L787.7,1926.7L782.1,1926.7L770.9,1899.8ZM782.1,1921.3L787.7,1921.3L798.8,1939.4L798.8,1944.8L793.2,1944.8L782.1,1926.7ZM793.2,1939.4L804.4,1928.2L810,1928.2L810,1933.6L798.8,1944.8L793.2,1944.8ZM804.4,1928.2L815.6,1917.1L821.2,1917.1L821.2,1922.5L810,1933.6L804.4,1933.6ZM815.6,1917.1L821.2,1917.1L832.3,1920L832.3,1925.4L826.7,1925.4L815.6,1922.5ZM826.7,1920L832.3,1920L843.5,1925.3L843.5,1930.7L837.9,1930.7L826.7,1925.4ZM837.9,1925.3L843.5,1925.3L854.7,1928.2L854.7,1933.6L849.1,1933.6L837.9,1930.7ZM849.1,1928.2L860.3,1924.3L865.9,1924.3L865.9,1929.7L854.7,1933.6L849.1,1933.6ZM860.3,1924.3L871.4,1915.7L877,1915.7L877,1921.1L865.9,1929.7L860.3,1929.7ZM871.4,1915.7L882.6,1907L888.2,1907L888.2,1912.4L877,1921.1L871.4,1921.1ZM882.6,1907L893.8,1903.1L899.4,1903.1L899.4,1908.5L888.2,1912.4L882.6,1912.4ZM893.8,1903.1L899.4,1903.1L910.6,1907.6L910.6,1913L905,1913L893.8,1908.5ZM905,1907.6L910.6,1907.6L921.8,1918.3L921.8,1923.7L916.2,1923.7L905,1913ZM916.2,1918.3L921.8,1918.3L932.9,1931.1L932.9,1936.5L927.3,1936.5L916.2,1923.7ZM927.3,1931.1L932.9,1931.1L944.1,1941.9L944.1,1947.3L938.5,1947.3L927.3,1936.5ZM938.5,1941.9L944.1,1941.9L955.3,1946.4L955.3,1951.8L949.7,1951.8L938.5,1947.3ZM949.7,1946.4L960.9,1942.6L966.5,1942.6L966.5,1948L955.3,1951.8L949.7,1951.8ZM960.9,1942.6L972,1933.3L977.6,1933.3L977.6,1938.7L966.5,1948L960.9,1948ZM972,1933.3L983.2,1921.3L988.8,1921.3L988.8,1926.7L977.6,1938.7L972,1938.7ZM983.2,1921.3L994.4,1909.2L1000,1909.2L1000,1914.6L988.8,1926.7L983.2,1926.7ZM994.4,1909.2L1005.6,1899.9L1011.2,1899.9L1011.2,1905.3L1000,1914.6L994.4,1914.6ZM1005.6,1899.9L1016.7,1896.1L1022.3,1896.1L1022.3,1901.5L1011.2,1905.3L1005.6,1905.3ZM1016.7,1896.1L1022.3,1896.1L1033.5,1900.5L1033.5,1905.9L1027.9,1905.9L1016.7,1901.5ZM1027.9,1900.5L1033.5,1900.5L1044.7,1910.9L1044.7,1916.3L1039.1,1916.3L1027.9,1905.9ZM1039.1,1910.9L1044.7,1910.9L1055.8,1923.3L1055.8,1928.7L1050.2,1928.7L1039.1,1916.3ZM1050.2,1923.3L1055.8,1923.3L1067,1933.6L1067,1939L1061.4,1939L1050.2,1928.7ZM1061.4,1933.6L1067,1933.6L1078.2,1938L1078.2,1943.4L1072.6,1943.4L1061.4,1939ZM1072.6,1938L1083.8,1934L1089.4,1934L1089.4,1939.4L1078.2,1943.4L1072.6,1943.4ZM1083.8,1934L1095,1926.7L1100.6,1926.7L1100.6,1932.1L1089.4,1939.4L1083.8,1939.4ZM1095,1926.7L1106.1,1920.1L1111.7,1920.1L1111.7,1925.5L1100.6,1932.1L1095,1932.1ZM1106.1,1920.1L1117.3,1913.3L1122.9,1913.3L1122.9,1918.7L1111.7,1925.5L1106.1,1925.5ZM1117.3,1913.3L1128.5,1910.1L1134.1,1910.1L1134.1,1915.5L1122.9,1918.7L1117.3,1918.7ZM1128.5,1910.1L1134.1,1910.1L1145.3,1913L1145.3,1918.4L1139.7,1918.4L1128.5,1915.5ZM1139.7,1913L1145.3,1913L1156.4,1918.4L1156.4,1923.8L1150.8,1923.8L1139.7,1918.4ZM1150.8,1918.4L1156.4,1918.4L1167.6,1921.3L1167.6,1926.7L1162,1926.7L1150.8,1923.8ZM1162,1921.3L1173.2,1919.3L1178.8,1919.3L1178.8,1924.7L1167.6,1926.7L1162,1926.7ZM1173.2,1919.3L1184.4,1915L1190,1915L1190,1920.4L1178.8,1924.7L1173.2,1924.7ZM1184.4,1915L1195.5,1910.7L1201.1,1910.7L1201.1,1916.1L1190,1920.4L1184.4,1920.4ZM1195.5,1910.7L1206.7,1908.7L1212.3,1908.7L1212.3,1914.1L1201.1,1916.1L1195.5,1916.1ZM1206.7,1908.7L1212.3,1908.7L1223.5,1911.7L1223.5,1917.1L1217.9,1917.1L1206.7,1914.1ZM1217.9,1911.7L1223.5,1911.7L1234.7,1919L1234.7,1924.4L1229.1,1924.4L1217.9,1917.1ZM1229.1,1919L1234.7,1919L1245.8,1927.7L1245.8,1933.1L1240.2,1933.1L1229.1,1924.4ZM1240.2,1927.7L1245.8,1927.7L1257,1935L1257,1940.4L1251.4,1940.4L1240.2,1933.1ZM1251.4,1935L1257,1935L1268.2,1938L1268.2,1943.4L1262.6,1943.4L1251.4,1940.4ZM1262.6,1938L1273.8,1932.8L1279.4,1932.8L1279.4,1938.2L1268.2,1943.4L1262.6,1943.4ZM1273.8,1932.8L1284.9,1920.2L1290.5,1920.2L1290.5,1925.6L1279.4,1938.2L1273.8,1938.2ZM1284.9,1920.2L1296.1,1904.8L1301.7,1904.8L1301.7,1910.2L1290.5,1925.6L1284.9,1925.6ZM1296.1,1904.8L1306.5,1892L1312.1,1892L1312.1,1897.4L1301.7,1910.2L1296.1,1910.2ZM1306.5,1892L1312.1,1892L1324,1895.4L1324,1900.8L1318.4,1900.8L1306.5,1897.4ZM1318.4,1895.4L1324,1895.4L1346.3,1897.3L1346.3,1902.7L1340.7,1902.7L1318.4,1900.8ZM1340.7,1897.3L1346.3,1897.3L1357.5,1951.3L1357.5,1956.7L1351.9,1956.7L1340.7,1902.7ZM1351.9,1951.3L1363,1914L1368.6,1914L1368.6,1919.4L1357.5,1956.7L1351.9,1956.7ZM1363,1914L1374.2,1889.9L1379.8,1889.9L1379.8,1895.3L1368.6,1919.4L1363,1919.4ZM1374.2,1889.9L1379.8,1889.9L1390.9,1982.9L1390.9,1988.3L1385.3,1988.3L1374.2,1895.3ZM1385.3,1982.9L1397.4,1860.1L1403,1860.1L1403,1865.5L1390.9,1988.3L1385.3,1988.3ZM1397.4,1860.1L1403,1860.1L1413.3,1966.1L1413.3,1971.5L1407.7,1971.5L1397.4,1865.5ZM1407.7,1966.1L1418.8,1880.6L1424.4,1880.6L1424.4,1886L1413.3,1971.5L1407.7,1971.5ZM1418.8,1880.6L1430,1753.1L1435.6,1753.1L1435.6,1758.5L1424.4,1886L1418.8,1886ZM1430,1753.1L1435.6,1753.1L1446.8,1942L1446.8,1947.4L1441.2,1947.4L1430,1758.5ZM1441.2,1942L1452.3,1876.8L1457.9,1876.8L1457.9,1882.2L1446.8,1947.4L1441.2,1947.4ZM1452.3,1876.8L1457.9,1876.8L1459.4,1943.8L1459.4,1949.2L1453.8,1949.2L1452.3,1882.2ZM1453.8,1943.8L1459.4,1943.8L1460.7,2853.6L1460.7,2859L1455.1,2859L1453.8,1949.2Z" fill="#ff0000" stroke="none"/>
<path d="M267,1992.4L268,1987.2L273.6,1987.2L273.6,1992.6L272.6,1997.8L267,1997.8ZM268,1987.2L279.2,1917.8L284.8,1917.8L284.8,1923.2L273.6,1992.6L268,1992.6ZM279.2,1917.8L290.4,1878L296,1878L296,1883.4L284.8,1923.2L279.2,1923.2ZM290.4,1878L296,1878L307.1,1914.2L307.1,1919.6L301.5,1919.6L290.4,1883.4ZM301.5,1914.2L307.1,1914.2L318.3,1981.4L318.3,1986.8L312.7,1986.8L301.5,1919.6ZM312.7,1981.4L318.3,1981.4L329.5,2017.5L329.5,2022.9L323.9,2022.9L312.7,1986.8ZM323.9,2017.5L335.1,1990L340.7,1990L340.7,1995.4L329.5,2022.9L323.9,2022.9ZM335.1,1990L346.2,1939L351.8,1939L351.8,1944.4L340.7,1995.4L335.1,1995.4ZM346.2,1939L357.4,1911.5L363,1911.5L363,1916.9L351.8,1944.4L346.2,1944.4ZM357.4,1911.5L363,1911.5L374.2,1941.8L374.2,1947.2L368.6,1947.2L357.4,1916.9ZM368.6,1941.8L374.2,1941.8L385.4,1980.9L385.4,1986.3L379.8,1986.3L368.6,1947.2ZM379.8,1980.9L385.4,1980.9L396.5,1992.4L396.5,1997.8L390.9,1997.8L379.8,1986.3ZM390.9,1992.4L402.1,1967.8L407.7,1967.8L407.7,1973.2L396.5,1997.8L390.9,1997.8ZM402.1,1967.8L413.3,1922.1L418.9,1922.1L418.9,1927.5L407.7,1973.2L402.1,1973.2ZM413.3,1922.1L424.4,1897.5L430,1897.5L430,1902.9L418.9,1927.5L413.3,1927.5ZM424.4,1897.5L430,1897.5L441.2,1945L441.2,1950.4L435.6,1950.4L424.4,1902.9ZM435.6,1945L441.2,1945L452.4,1999.2L452.4,2004.6L446.8,2004.6L435.6,1950.4ZM446.8,1999.2L452.4,1999.2L463.6,2006.4L463.6,2011.8L458,2011.8L446.8,2004.6ZM458,2006.4L469.2,1973.4L474.8,1973.4L474.8,1978.8L463.6,2011.8L458,2011.8ZM469.2,1973.4L480.3,1912.3L485.9,1912.3L485.9,1917.7L474.8,1978.8L469.2,1978.8ZM480.3,1912.3L491.5,1879.4L497.1,1879.4L497.1,1884.8L485.9,1917.7L480.3,1917.7ZM491.5,1879.4L497.1,1879.4L508.3,1911.6L508.3,1917L502.7,1917L491.5,1884.8ZM502.7,1911.6L508.3,1911.6L519.5,1971.4L519.5,1976.8L513.9,1976.8L502.7,1917ZM513.9,1971.4L519.5,1971.4L530.6,2003.6L530.6,2009L525,2009L513.9,1976.8ZM525,2003.6L536.2,1979L541.8,1979L541.8,1984.4L530.6,2009L525,2009ZM536.2,1979L547.4,1933.3L553,1933.3L553,1938.7L541.8,1984.4L536.2,1984.4ZM547.4,1933.3L558.6,1908.7L564.2,1908.7L564.2,1914.1L553,1938.7L547.4,1938.7ZM558.6,1908.7L564.2,1908.7L575.3,1932.6L575.3,1938L569.7,1938L558.6,1914.1ZM569.7,1932.6L575.3,1932.6L586.5,1963.5L586.5,1968.9L580.9,1968.9L569.7,1938ZM580.9,1963.5L586.5,1963.5L597.7,1970.1L597.7,1975.5L592.1,1975.5L580.9,1968.9ZM592.1,1970.1L603.2,1943.6L608.8,1943.6L608.8,1949L597.7,1975.5L592.1,1975.5ZM603.2,1943.6L614.4,1917.1L620,1917.1L620,1922.5L608.8,1949L603.2,1949ZM614.4,1917.1L620,1917.1L631.2,1936.2L631.2,1941.6L625.6,1941.6L614.4,1922.5ZM625.6,1936.2L631.2,1936.2L642.4,1971.8L642.4,1977.2L636.8,1977.2L625.6,1941.6ZM636.8,1971.8L642.4,1971.8L653.6,1991L653.6,1996.4L648,1996.4L636.8,1977.2ZM648,1991L659.1,1963.9L664.7,1963.9L664.7,1969.3L653.6,1996.4L648,1996.4ZM659.1,1963.9L670.3,1913.5L675.9,1913.5L675.9,1918.9L664.7,1969.3L659.1,1969.3ZM670.3,1913.5L681.5,1886.4L687.1,1886.4L687.1,1891.8L675.9,1918.9L670.3,1918.9ZM681.5,1886.4L687.1,1886.4L698.3,1891.6L698.3,1897L692.7,1897L681.5,1891.8ZM692.7,1891.6L698.3,1891.6L709.4,1942.3L709.4,1947.7L703.8,1947.7L692.7,1897ZM703.8,1942.3L709.4,1942.3L720.6,1990.1L720.6,1995.5L715,1995.5L703.8,1947.7ZM715,1990.1L720.6,1990.1L731.8,1996.6L731.8,2002L726.2,2002L715,1995.5ZM726.2,1996.6L737.4,1971.6L743,1971.6L743,1977L731.8,2002L726.2,2002ZM737.4,1971.6L748.5,1925.3L754.1,1925.3L754.1,1930.7L743,1977L737.4,1977ZM748.5,1925.3L759.7,1900.3L765.3,1900.3L765.3,1905.7L754.1,1930.7L748.5,1930.7ZM759.7,1900.3L765.3,1900.3L776.5,1926.5L776.5,1931.9L770.9,1931.9L759.7,1905.7ZM770.9,1926.5L776.5,1926.5L787.7,1958.3L787.7,1963.7L782.1,1963.7L770.9,1931.9ZM782.1,1958.3L787.7,1958.3L798.8,1963.1L798.8,1968.5L793.2,1968.5L782.1,1963.7ZM793.2,1963.1L804.4,1944.3L810,1944.3L810,1949.7L798.8,1968.5L793.2,1968.5ZM804.4,1944.3L815.6,1925.4L821.2,1925.4L821.2,1930.8L810,1949.7L804.4,1949.7ZM815.6,1925.4L821.2,1925.4L832.3,1935.9L832.3,1941.3L826.7,1941.3L815.6,1930.8ZM826.7,1935.9L832.3,1935.9L843.5,1955.4L843.5,1960.8L837.9,1960.8L826.7,1941.3ZM837.9,1955.4L843.5,1955.4L854.7,1965.9L854.7,1971.3L849.1,1971.3L837.9,1960.8ZM849.1,1965.9L860.3,1959.7L865.9,1959.7L865.9,1965.1L854.7,1971.3L849.1,1971.3ZM860.3,1959.7L871.4,1944.8L877,1944.8L877,1950.2L865.9,1965.1L860.3,1965.1ZM871.4,1944.8L882.6,1927L888.2,1927L888.2,1932.4L877,1950.2L871.4,1950.2ZM882.6,1927L893.8,1912.1L899.4,1912.1L899.4,1917.5L888.2,1932.4L882.6,1932.4ZM893.8,1912.1L905,1905.9L910.6,1905.9L910.6,1911.3L899.4,1917.5L893.8,1917.5ZM905,1905.9L910.6,1905.9L921.8,1913.7L921.8,1919.1L916.2,1919.1L905,1911.3ZM916.2,1913.7L921.8,1913.7L932.9,1932.4L932.9,1937.8L927.3,1937.8L916.2,1919.1ZM927.3,1932.4L932.9,1932.4L944.1,1954.7L944.1,1960.1L938.5,1960.1L927.3,1937.8ZM938.5,1954.7L944.1,1954.7L955.3,1973.4L955.3,1978.8L949.7,1978.8L938.5,1960.1ZM949.7,1973.4L955.3,1973.4L966.5,1981.3L966.5,1986.7L960.9,1986.7L949.7,1978.8ZM960.9,1981.3L972,1972.8L977.6,1972.8L977.6,1978.2L966.5,1986.7L960.9,1986.7ZM972,1972.8L983.2,1952.8L988.8,1952.8L988.8,1958.2L977.6,1978.2L972,1978.2ZM983.2,1952.8L994.4,1928.8L1000,1928.8L1000,1934.2L988.8,1958.2L983.2,1958.2ZM994.4,1928.8L1005.6,1908.7L1011.2,1908.7L1011.2,1914.1L1000,1934.2L994.4,1934.2ZM1005.6,1908.7L1016.7,1900.3L1022.3,1900.3L1022.3,1905.7L1011.2,1914.1L1005.6,1914.1ZM1016.7,1900.3L1022.3,1900.3L1033.5,1907.6L1033.5,1913L1027.9,1913L1016.7,1905.7ZM1027.9,1907.6L1033.5,1907.6L1044.7,1924.9L1044.7,1930.3L1039.1,1930.3L1027.9,1913ZM1039.1,1924.9L1044.7,1924.9L1055.8,1945.5L1055.8,1950.9L1050.2,1950.9L1039.1,1930.3ZM1050.2,1945.5L1055.8,1945.5L1067,1962.8L1067,1968.2L1061.4,1968.2L1050.2,1950.9ZM1061.4,1962.8L1067,1962.8L1078.2,1970.1L1078.2,1975.5L1072.6,1975.5L1061.4,1968.2ZM1072.6,1970.1L1083.8,1959.6L1089.4,1959.6L1089.4,1965L1078.2,1975.5L1072.6,1975.5ZM1083.8,1959.6L1095,1942L1100.6,1942L1100.6,1947.4L1089.4,1965L1083.8,1965ZM1095,1942L1106.1,1929.7L1111.7,1929.7L1111.7,1935.1L1100.6,1947.4L1095,1947.4ZM1106.1,1929.7L1117.3,1922.6L1122.9,1922.6L1122.9,1928L1111.7,1935.1L1106.1,1935.1ZM1117.3,1922.6L1122.9,1922.6L1134.1,1929L1134.1,1934.4L1128.5,1934.4L1117.3,1928ZM1128.5,1929L1134.1,1929L1145.3,1942.9L1145.3,1948.3L1139.7,1948.3L1128.5,1934.4ZM1139.7,1942.9L1145.3,1942.9L1156.4,1956.8L1156.4,1962.2L1150.8,1962.2L1139.7,1948.3ZM1150.8,1956.8L1156.4,1956.8L1167.6,1963.1L1167.6,1968.5L1162,1968.5L1150.8,1962.2ZM1162,1963.1L1173.2,1956.7L1178.8,1956.7L1178.8,1962.1L1167.6,1968.5L1162,1968.5ZM1173.2,1956.7L1184.4,1941.5L1190,1941.5L1190,1946.9L1178.8,1962.1L1173.2,1962.1ZM1184.4,1941.5L1195.5,1923.3L1201.1,1923.3L1201.1,1928.7L1190,1946.9L1184.4,1946.9ZM1195.5,1923.3L1206.7,1908.1L1212.3,1908.1L1212.3,1913.5L1201.1,1928.7L1195.5,1928.7ZM1206.7,1908.1L1217.9,1901.7L1223.5,1901.7L1223.5,1907.1L1212.3,1913.5L1206.7,1913.5ZM1217.9,1901.7L1223.5,1901.7L1234.7,1915.2L1234.7,1920.6L1229.1,1920.6L1217.9,1907.1ZM1229.1,1915.2L1234.7,1915.2L1245.8,1945L1245.8,1950.4L1240.2,1950.4L1229.1,1920.6ZM1240.2,1945L1245.8,1945L1257,1974.7L1257,1980.1L1251.4,1980.1L1240.2,1950.4ZM1251.4,1974.7L1257,1974.7L1268.2,1988.2L1268.2,1993.6L1262.6,1993.6L1251.4,1980.1ZM1262.6,1988.2L1273.8,1978L1279.4,1978L1279.4,1983.4L1268.2,1993.6L1262.6,1993.6ZM1273.8,1978L1284.9,1952.8L1290.5,1952.8L1290.5,1958.2L1279.4,1983.4L1273.8,1983.4ZM1284.9,1952.8L1296.1,1921L1301.7,1921L1301.7,1926.4L1290.5,1958.2L1284.9,1958.2ZM1296.1,1921L1307.3,1891L1312.9,1891L1312.9,1896.4L1301.7,1926.4L1296.1,1926.4ZM1307.3,1891L1309.3,1886.4L1314.9,1886.4L1314.9,1891.8L1312.9,1896.4L1307.3,1896.4ZM1309.3,1886.4L1314.9,1886.4L1324,1888L1324,1893.4L1318.4,1893.4L1309.3,1891.8ZM1318.4,1888L1324,1888L1335.1,1897.3L1335.1,1902.7L1329.5,1902.7L1318.4,1893.4ZM1329.5,1897.3L1335.1,1897.3L1346.3,1923.3L1346.3,1928.7L1340.7,1928.7L1329.5,1902.7ZM1340.7,1923.3L1346.3,1923.3L1357.5,1986.6L1357.5,1992L1351.9,1992L1340.7,1928.7ZM1351.9,1986.6L1363,1928.9L1368.6,1928.9L1368.6,1934.3L1357.5,1992L1351.9,1992ZM1363,1928.9L1368.6,1928.9L1379.8,1981L1379.8,1986.4L1374.2,1986.4L1363,1934.3ZM1374.2,1981L1385.3,1973.6L1390.9,1973.6L1390.9,1979L1379.8,1986.4L1374.2,1986.4ZM1385.3,1973.6L1396.5,1886.1L1402.1,1886.1L1402.1,1891.5L1390.9,1979L1385.3,1979ZM1396.5,1886.1L1402.1,1886.1L1413.3,2000.4L1413.3,2005.8L1407.7,2005.8L1396.5,1891.5ZM1407.7,2000.4L1418.8,1923.3L1424.4,1923.3L1424.4,1928.7L1413.3,2005.8L1407.7,2005.8ZM1418.8,1923.3L1424.4,1923.3L1435.8,1947.3L1435.8,1952.7L1430.2,1952.7L1418.8,1928.7ZM1430.2,1947.3L1435.8,1947.3L1438.8,1988.3L1438.8,1993.7L1433.2,1993.7L1430.2,1952.7ZM1433.2,1988.3L1438.8,1988.3L1443.2,2116.3L1443.2,2121.7L1437.6,2121.7L1433.2,1993.7ZM1437.6,2116.3L1443.2,2116.3L1454.8,2757.3L1454.8,2762.7L1449.2,2762.7L1437.6,2121.7Z" fill="#00ff00" stroke="none"/>
<path d="M267,1919.9L268,1918.8L273.6,1918.8L273.6,1924.2L272.6,1925.3L267,1925.3ZM268,1918.8L279.2,1904.4L284.8,1904.4L284.8,1909.8L273.6,1924.2L268,1924.2ZM279.2,1904.4L290.4,1896.1L296,1896.1L296,1901.5L284.8,1909.8L279.2,1909.8ZM290.4,1896.1L296,1896.1L307.1,1906.3L307.1,1911.7L301.5,1911.7L290.4,1901.5ZM301.5,1906.3L307.1,1906.3L318.3,1925.1L318.3,1930.5L312.7,1930.5L301.5,1911.7ZM312.7,1925.1L318.3,1925.1L329.5,1935.2L329.5,1940.6L323.9,1940.6L312.7,1930.5ZM323.9,1935.2L335.1,1932.6L340.7,1932.6L340.7,1938L329.5,1940.6L323.9,1940.6ZM335.1,1932.6L346.2,1927.9L351.8,1927.9L351.8,1933.3L340.7,1938L335.1,1938ZM346.2,1927.9L357.4,1924.7L363,1924.7L363,1930.1L351.8,1933.3L346.2,1933.3ZM357.4,1924.7L368.6,1921.4L374.2,1921.4L374.2,1926.8L363,1930.1L357.4,1930.1ZM368.6,1921.4L379.8,1912.2L385.4,1912.2L385.4,1917.6L374.2,1926.8L368.6,1926.8ZM379.8,1912.2L390.9,1899.7L396.5,1899.7L396.5,1905.1L385.4,1917.6L379.8,1917.6ZM390.9,1899.7L402.1,1893.3L407.7,1893.3L407.7,1898.7L396.5,1905.1L390.9,1905.1ZM402.1,1893.3L407.7,1893.3L418.9,1898.6L418.9,1904L413.3,1904L402.1,1898.7ZM413.3,1898.6L418.9,1898.6L430,1910.1L430,1915.5L424.4,1915.5L413.3,1904ZM424.4,1910.1L430,1910.1L441.2,1921.6L441.2,1927L435.6,1927L424.4,1915.5ZM435.6,1921.6L441.2,1921.6L452.4,1926.8L452.4,1932.2L446.8,1932.2L435.6,1927ZM446.8,1926.8L458,1917.1L463.6,1917.1L463.6,1922.5L452.4,1932.2L446.8,1932.2ZM458,1917.1L469.2,1898.9L474.8,1898.9L474.8,1904.3L463.6,1922.5L458,1922.5ZM469.2,1898.9L480.3,1889.2L485.9,1889.2L485.9,1894.6L474.8,1904.3L469.2,1904.3ZM480.3,1889.2L485.9,1889.2L497.1,1896.8L497.1,1902.2L491.5,1902.2L480.3,1894.6ZM491.5,1896.8L497.1,1896.8L508.3,1910.9L508.3,1916.3L502.7,1916.3L491.5,1902.2ZM502.7,1910.9L508.3,1910.9L519.5,1918.5L519.5,1923.9L513.9,1923.9L502.7,1916.3ZM513.9,1918.5L525,1910.8L530.6,1910.8L530.6,1916.2L519.5,1923.9L513.9,1923.9ZM525,1910.8L536.2,1903.1L541.8,1903.1L541.8,1908.5L530.6,1916.2L525,1916.2ZM536.2,1903.1L553,1903.1L553,1908.5L536.2,1908.5ZM547.4,1903.1L564.2,1903.1L564.2,1908.5L547.4,1908.5ZM558.6,1903.1L575.3,1903.1L575.3,1908.5L558.6,1908.5ZM569.7,1903.1L580.9,1897.3L586.5,1897.3L586.5,1902.7L575.3,1908.5L569.7,1908.5ZM580.9,1897.3L592.1,1890.6L597.7,1890.6L597.7,1896L586.5,1902.7L580.9,1902.7ZM592.1,1890.6L597.7,1890.6L608.8,1892.6L608.8,1898L603.2,1898L592.1,1896ZM603.2,1892.6L608.8,1892.6L620,1904.7L620,1910.1L614.4,1910.1L603.2,1898ZM614.4,1904.7L620,1904.7L631.2,1921.3L631.2,1926.7L625.6,1926.7L614.4,1910.1ZM625.6,1921.3L631.2,1921.3L642.4,1929.6L642.4,1935L636.8,1935L625.6,1926.7ZM636.8,1929.6L648,1920.9L653.6,1920.9L653.6,1926.3L642.4,1935L636.8,1935ZM648,1920.9L659.1,1904.8L664.7,1904.8L664.7,1910.2L653.6,1926.3L648,1926.3ZM659.1,1904.8L670.3,1896.1L675.9,1896.1L675.9,1901.5L664.7,1910.2L659.1,1910.2ZM670.3,1896.1L675.9,1896.1L687.1,1899L687.1,1904.4L681.5,1904.4L670.3,1901.5ZM681.5,1899L687.1,1899L698.3,1904.4L698.3,1909.8L692.7,1909.8L681.5,1904.4ZM692.7,1904.4L698.3,1904.4L709.4,1907.3L709.4,1912.7L703.8,1912.7L692.7,1909.8ZM703.8,1907.3L715,1903.8L720.6,1903.8L720.6,1909.2L709.4,1912.7L703.8,1912.7ZM715,1903.8L726.2,1897.2L731.8,1897.2L731.8,1902.6L720.6,1909.2L715,1909.2ZM726.2,1897.2L737.4,1893.4L743,1893.4L743,1898.8L731.8,1902.6L726.2,1902.6ZM737.4,1893.4L748.5,1893.3L754.1,1893.3L754.1,1898.7L743,1898.8L737.4,1898.8ZM748.5,1893.3L754.1,1893.3L765.3,1898.7L765.3,1904.1L759.7,1904.1L748.5,1898.7ZM759.7,1898.7L765.3,1898.7L776.5,1909.6L776.5,1915L770.9,1915L759.7,1904.1ZM770.9,1909.6L776.5,1909.6L787.7,1915.7L787.7,1921.1L782.1,1921.1L770.9,1915ZM782.1,1915.7L793.2,1911.9L798.8,1911.9L798.8,1917.3L787.7,1921.1L782.1,1921.1ZM793.2,1911.9L804.4,1906.1L810,1906.1L810,1911.5L798.8,1917.3L793.2,1917.3ZM804.4,1906.1L815.6,1902.4L821.2,1902.4L821.2,1907.8L810,1911.5L804.4,1911.5ZM815.6,1902.4L826.7,1900.3L832.3,1900.3L832.3,1905.7L821.2,1907.8L815.6,1907.8ZM826.7,1900.3L832.3,1900.3L843.5,1901.7L843.5,1907.1L837.9,1907.1L826.7,1905.7ZM837.9,1901.7L843.5,1901.7L854.7,1903.1L854.7,1908.5L849.1,1908.5L837.9,1907.1ZM849.1,1903.1L860.3,1893.3L865.9,1893.3L865.9,1898.7L854.7,1908.5L849.1,1908.5ZM860.3,1893.3L865.9,1893.3L877,1898.3L877,1903.7L871.4,1903.7L860.3,1898.7ZM871.4,1898.3L877,1898.3L888.2,1901.7L888.2,1907.1L882.6,1907.1L871.4,1903.7ZM882.6,1901.7L888.2,1901.7L899.4,1904.3L899.4,1909.7L893.8,1909.7L882.6,1907.1ZM893.8,1904.3L899.4,1904.3L910.6,1906.9L910.6,1912.3L905,1912.3L893.8,1909.7ZM905,1906.9L910.6,1906.9L921.8,1909.8L921.8,1915.2L916.2,1915.2L905,1912.3ZM916.2,1909.8L921.8,1909.8L932.9,1912.6L932.9,1918L927.3,1918L916.2,1915.2ZM927.3,1912.6L932.9,1912.6L944.1,1914.8L944.1,1920.2L938.5,1920.2L927.3,1918ZM938.5,1914.8L944.1,1914.8L955.3,1915.7L955.3,1921.1L949.7,1921.1L938.5,1920.2ZM949.7,1915.7L960.9,1912.8L966.5,1912.8L966.5,1918.2L955.3,1921.1L949.7,1921.1ZM960.9,1912.8L972,1907.4L977.6,1907.4L977.6,1912.8L966.5,1918.2L960.9,1918.2ZM972,1907.4L983.2,1904.5L988.8,1904.5L988.8,1909.9L977.6,1912.8L972,1912.8ZM983.2,1904.5L988.8,1904.5L1000,1904.8L1000,1910.2L994.4,1910.2L983.2,1909.9ZM994.4,1904.8L1000,1904.8L1011.2,1905.5L1011.2,1910.9L1005.6,1910.9L994.4,1910.2ZM1005.6,1905.5L1011.2,1905.5L1022.3,1906.3L1022.3,1911.7L1016.7,1911.7L1005.6,1910.9ZM1016.7,1906.3L1022.3,1906.3L1033.5,1907L1033.5,1912.4L1027.9,1912.4L1016.7,1911.7ZM1027.9,1907L1033.5,1907L1044.7,1907.3L1044.7,1912.7L1039.1,1912.7L1027.9,1912.4ZM1039.1,1907.3L1050.2,1906.5L1055.8,1906.5L1055.8,1911.9L1044.7,1912.7L1039.1,1912.7ZM1050.2,1906.5L1061.4,1904.6L1067,1904.6L1067,1910L1055.8,1911.9L1050.2,1911.9ZM1061.4,1904.6L1072.6,1902.1L1078.2,1902.1L1078.2,1907.5L1067,1910L1061.4,1910ZM1072.6,1902.1L1083.8,1899.6L1089.4,1899.6L1089.4,1905L1078.2,1907.5L1072.6,1907.5ZM1083.8,1899.6L1095,1897.5L1100.6,1897.5L1100.6,1902.9L1089.4,1905L1083.8,1905ZM1095,1897.5L1106.1,1895.7L1111.7,1895.7L1111.7,1901.1L1100.6,1902.9L1095,1902.9ZM1106.1,1895.7L1117.3,1894.1L1122.9,1894.1L1122.9,1899.5L1111.7,1901.1L1106.1,1901.1ZM1117.3,1894.1L1128.5,1893.3L1134.1,1893.3L1134.1,1898.7L1122.9,1899.5L1117.3,1899.5ZM1128.5,1893.3L1134.1,1893.3L1145.3,1893.7L1145.3,1899.1L1139.7,1899.1L1128.5,1898.7ZM1139.7,1893.7L1145.3,1893.7L1156.4,1894.8L1156.4,1900.2L1150.8,1900.2L1139.7,1899.1ZM1150.8,1894.8L1156.4,1894.8L1167.6,1896.2L1167.6,1901.6L1162,1901.6L1150.8,1900.2ZM1162,1896.2L1167.6,1896.2L1178.8,1900.5L1178.8,1905.9L1173.2,1905.9L1162,1901.6ZM1173.2,1900.5L1178.8,1900.5L1190,1907.6L1190,1913L1184.4,1913L1173.2,1905.9ZM1184.4,1907.6L1190,1907.6L1201.1,1914.2L1201.1,1919.6L1195.5,1919.6L1184.4,1913ZM1195.5,1914.2L1201.1,1914.2L1212.3,1917.1L1212.3,1922.5L1206.7,1922.5L1195.5,1919.6ZM1206.7,1917.1L1217.9,1916.3L1223.5,1916.3L1223.5,1921.7L1212.3,1922.5L1206.7,1922.5ZM1217.9,1916.3L1229.1,1914.5L1234.7,1914.5L1234.7,1919.9L1223.5,1921.7L1217.9,1921.7ZM1229.1,1914.5L1240.2,1912L1245.8,1912L1245.8,1917.4L1234.7,1919.9L1229.1,1919.9ZM1240.2,1912L1251.4,1907.8L1257,1907.8L1257,1913.2L1245.8,1917.4L1240.2,1917.4ZM1251.4,1907.8L1262.6,1901.4L1268.2,1901.4L1268.2,1906.8L1257,1913.2L1251.4,1913.2ZM1262.6,1901.4L1273.8,1897.4L1279.4,1897.4L1279.4,1902.8L1268.2,1906.8L1262.6,1906.8ZM1273.8,1897.4L1284.9,1896.2L1290.5,1896.2L1290.5,1901.6L1279.4,1902.8L1273.8,1902.8ZM1284.9,1896.2L1296.1,1895.5L1301.7,1895.5L1301.7,1900.9L1290.5,1901.6L1284.9,1901.6ZM1296.1,1895.5L1306.5,1894.7L1312.1,1894.7L1312.1,1900.1L1301.7,1900.9L1296.1,1900.9ZM1306.5,1894.7L1312.1,1894.7L1324,1908.5L1324,1913.9L1318.4,1913.9L1306.5,1900.1ZM1318.4,1908.5L1329.5,1889.9L1335.1,1889.9L1335.1,1895.3L1324,1913.9L1318.4,1913.9ZM1329.5,1889.9L1335.1,1889.9L1346.3,1908.5L1346.3,1913.9L1340.7,1913.9L1329.5,1895.3ZM1340.7,1908.5L1346.3,1908.5L1357.5,1925.2L1357.5,1930.6L1351.9,1930.6L1340.7,1913.9ZM1351.9,1925.2L1363,1826.6L1368.6,1826.6L1368.6,1832L1357.5,1930.6L1351.9,1930.6ZM1363,1826.6L1368.6,1826.6L1379.8,1923.3L1379.8,1928.7L1374.2,1928.7L1363,1832ZM1374.2,1923.3L1385.3,1880.6L1390.9,1880.6L1390.9,1886L1379.8,1928.7L1374.2,1928.7ZM1385.3,1880.6L1390.9,1880.6L1402.1,1895.4L1402.1,1900.8L1396.5,1900.8L1385.3,1886ZM1396.5,1895.4L1402.1,1895.4L1413.3,1927.1L1413.3,1932.5L1407.7,1932.5L1396.5,1900.8ZM1407.7,1927.1L1418.8,1792.2L1424.4,1792.2L1424.4,1797.6L1413.3,1932.5L1407.7,1932.5ZM1418.8,1792.2L1424.4,1792.2L1435.6,1991.3L1435.6,1996.7L1430,1996.7L1418.8,1797.6ZM1430,1991.3L1441.2,1781L1446.8,1781L1446.8,1786.4L1435.6,1996.7L1430,1996.7ZM1441.2,1781L1446.8,1781L1457,1942L1457,1947.4L1451.4,1947.4L1441.2,1786.4ZM1451.4,1942L1457,1942L1458.8,2045.3L1458.8,2050.7L1453.2,2050.7L1451.4,1947.4ZM1453.2,2045.3L1458.8,2045.3L1460.8,2757.3L1460.8,2762.7L1455.2,2762.7L1453.2,2050.7Z" fill="#00ffff" stroke="none"/>
<path d="M267,1947.8L268,1946.5L273.6,1946.5L273.6,1951.9L272.6,1953.2L267,1953.2ZM268,1946.5L279.2,1930.5L284.8,1930.5L284.8,1935.9L273.6,1951.9L268,1951.9ZM279.2,1930.5L290.4,1921.3L296,1921.3L296,1926.7L284.8,1935.9L279.2,1935.9ZM290.4,1921.3L296,1921.3L307.1,1931.7L307.1,1937.1L301.5,1937.1L290.4,1926.7ZM301.5,1931.7L307.1,1931.7L318.3,1942.2L318.3,1947.6L312.7,1947.6L301.5,1937.1ZM312.7,1942.2L323.9,1940.8L329.5,1940.8L329.5,1946.2L318.3,1947.6L312.7,1947.6ZM323.9,1940.8L335.1,1939.4L340.7,1939.4L340.7,1944.8L329.5,1946.2L323.9,1946.2ZM335.1,1939.4L340.7,1939.4L351.8,1940.5L351.8,1945.9L346.2,1945.9L335.1,1944.8ZM346.2,1940.5L351.8,1940.5L363,1942.5L363,1947.9L357.4,1947.9L346.2,1945.9ZM357.4,1942.5L363,1942.5L374.2,1943.6L374.2,1949L368.6,1949L357.4,1947.9ZM368.6,1943.6L379.8,1933.1L385.4,1933.1L385.4,1938.5L374.2,1949L368.6,1949ZM379.8,1933.1L390.9,1913.6L396.5,1913.6L396.5,1919L385.4,1938.5L379.8,1938.5ZM390.9,1913.6L402.1,1903.1L407.7,1903.1L407.7,1908.5L396.5,1919L390.9,1919ZM402.1,1903.1L407.7,1903.1L418.9,1910.5L418.9,1915.9L413.3,1915.9L402.1,1908.5ZM413.3,1910.5L418.9,1910.5L430,1926.8L430,1932.2L424.4,1932.2L413.3,1915.9ZM424.4,1926.8L430,1926.8L441.2,1943.1L441.2,1948.5L435.6,1948.5L424.4,1932.2ZM435.6,1943.1L441.2,1943.1L452.4,1950.6L452.4,1956L446.8,1956L435.6,1948.5ZM446.8,1950.6L458,1939.3L463.6,1939.3L463.6,1944.7L452.4,1956L446.8,1956ZM458,1939.3L469.2,1918.5L474.8,1918.5L474.8,1923.9L463.6,1944.7L458,1944.7ZM469.2,1918.5L480.3,1907.3L485.9,1907.3L485.9,1912.7L474.8,1923.9L469.2,1923.9ZM480.3,1907.3L485.9,1907.3L497.1,1912.7L497.1,1918.1L491.5,1918.1L480.3,1912.7ZM491.5,1912.7L497.1,1912.7L508.3,1922.8L508.3,1928.2L502.7,1928.2L491.5,1918.1ZM502.7,1922.8L508.3,1922.8L519.5,1928.2L519.5,1933.6L513.9,1933.6L502.7,1928.2ZM513.9,1928.2L525,1924.7L530.6,1924.7L530.6,1930.1L519.5,1933.6L513.9,1933.6ZM525,1924.7L536.2,1921.3L541.8,1921.3L541.8,1926.7L530.6,1930.1L525,1930.1ZM536.2,1921.3L541.8,1921.3L553,1924L553,1929.4L547.4,1929.4L536.2,1926.7ZM547.4,1924L553,1924L564.2,1926.8L564.2,1932.2L558.6,1932.2L547.4,1929.4ZM558.6,1926.8L569.7,1923.6L575.3,1923.6L575.3,1929L564.2,1932.2L558.6,1932.2ZM569.7,1923.6L580.9,1916.4L586.5,1916.4L586.5,1921.8L575.3,1929L569.7,1929ZM580.9,1916.4L592.1,1909.2L597.7,1909.2L597.7,1914.6L586.5,1921.8L580.9,1921.8ZM592.1,1909.2L603.2,1905.9L608.8,1905.9L608.8,1911.3L597.7,1914.6L592.1,1914.6ZM603.2,1905.9L608.8,1905.9L620,1914.6L620,1920L614.4,1920L603.2,1911.3ZM614.4,1914.6L620,1914.6L631.2,1930.7L631.2,1936.1L625.6,1936.1L614.4,1920ZM625.6,1930.7L631.2,1930.7L642.4,1939.4L642.4,1944.8L636.8,1944.8L625.6,1936.1ZM636.8,1939.4L648,1935.3L653.6,1935.3L653.6,1940.7L642.4,1944.8L636.8,1944.8ZM648,1935.3L659.1,1926.1L664.7,1926.1L664.7,1931.5L653.6,1940.7L648,1940.7ZM659.1,1926.1L670.3,1917L675.9,1917L675.9,1922.4L664.7,1931.5L659.1,1931.5ZM670.3,1917L681.5,1912.9L687.1,1912.9L687.1,1918.3L675.9,1922.4L670.3,1922.4ZM681.5,1912.9L687.1,1912.9L698.3,1915.8L698.3,1921.2L692.7,1921.2L681.5,1918.3ZM692.7,1915.8L698.3,1915.8L709.4,1921.2L709.4,1926.6L703.8,1926.6L692.7,1921.2ZM703.8,1921.2L709.4,1921.2L720.6,1924L720.6,1929.4L715,1929.4L703.8,1926.6ZM715,1924L726.2,1920.8L731.8,1920.8L731.8,1926.2L720.6,1929.4L715,1929.4ZM726.2,1920.8L737.4,1914.7L743,1914.7L743,1920.1L731.8,1926.2L726.2,1926.2ZM737.4,1914.7L748.5,1911.5L754.1,1911.5L754.1,1916.9L743,1920.1L737.4,1920.1ZM748.5,1911.5L754.1,1911.5L765.3,1916.2L765.3,1921.6L759.7,1921.6L748.5,1916.9ZM759.7,1916.2L765.3,1916.2L776.5,1924.9L776.5,1930.3L770.9,1930.3L759.7,1921.6ZM770.9,1924.9L776.5,1924.9L787.7,1929.6L787.7,1935L782.1,1935L770.9,1930.3ZM782.1,1929.6L793.2,1925L798.8,1925L798.8,1930.4L787.7,1935L782.1,1935ZM793.2,1925L804.4,1919.9L810,1919.9L810,1925.3L798.8,1930.4L793.2,1930.4ZM804.4,1919.9L821.2,1919.9L821.2,1925.3L804.4,1925.3ZM815.6,1919.9L832.3,1919.9L832.3,1925.3L815.6,1925.3ZM826.7,1919.9L837.9,1919.6L843.5,1919.6L843.5,1925L832.3,1925.3L826.7,1925.3ZM837.9,1919.6L849.1,1918.6L854.7,1918.6L854.7,1924L843.5,1925L837.9,1925ZM849.1,1918.6L860.3,1917.3L865.9,1917.3L865.9,1922.7L854.7,1924L849.1,1924ZM860.3,1917.3L871.4,1916.2L877,1916.2L877,1921.6L865.9,1922.7L860.3,1922.7ZM871.4,1916.2L882.6,1915.7L888.2,1915.7L888.2,1921.1L877,1921.6L871.4,1921.6ZM882.6,1915.7L888.2,1915.7L899.4,1916.8L899.4,1922.2L893.8,1922.2L882.6,1921.1ZM893.8,1916.8L899.4,1916.8L910.6,1919.7L910.6,1925.1L905,1925.1L893.8,1922.2ZM905,1919.7L910.6,1919.7L921.8,1923.3L921.8,1928.7L916.2,1928.7L905,1925.1ZM916.2,1923.3L921.8,1923.3L932.9,1927L932.9,1932.4L927.3,1932.4L916.2,1928.7ZM927.3,1927L932.9,1927L944.1,1929.9L944.1,1935.3L938.5,1935.3L927.3,1932.4ZM938.5,1929.9L944.1,1929.9L955.3,1931L955.3,1936.4L949.7,1936.4L938.5,1935.3ZM949.7,1931L960.9,1929.7L966.5,1929.7L966.5,1935.1L955.3,1936.4L949.7,1936.4ZM960.9,1929.7L972,1926.6L977.6,1926.6L977.6,1932L966.5,1935.1L960.9,1935.1ZM972,1926.6L983.2,1922.9L988.8,1922.9L988.8,1928.3L977.6,1932L972,1932ZM983.2,1922.9L994.4,1919.8L1000,1919.8L1000,1925.2L988.8,1928.3L983.2,1928.3ZM994.4,1919.8L1005.6,1918.5L1011.2,1918.5L1011.2,1923.9L1000,1925.2L994.4,1925.2ZM1005.6,1918.5L1011.2,1918.5L1022.3,1919.1L1022.3,1924.5L1016.7,1924.5L1005.6,1923.9ZM1016.7,1919.1L1022.3,1919.1L1033.5,1920.6L1033.5,1926L1027.9,1926L1016.7,1924.5ZM1027.9,1920.6L1033.5,1920.6L1044.7,1922L1044.7,1927.4L1039.1,1927.4L1027.9,1926ZM1039.1,1922L1044.7,1922L1055.8,1922.6L1055.8,1928L1050.2,1928L1039.1,1927.4ZM1050.2,1922.6L1061.4,1922.1L1067,1922.1L1067,1927.5L1055.8,1928L1050.2,1928ZM1061.4,1922.1L1072.6,1920.7L1078.2,1920.7L1078.2,1926.1L1067,1927.5L1061.4,1927.5ZM1072.6,1920.7L1083.8,1918.8L1089.4,1918.8L1089.4,1924.2L1078.2,1926.1L1072.6,1926.1ZM1083.8,1918.8L1095,1917.1L1100.6,1917.1L1100.6,1922.5L1089.4,1924.2L1083.8,1924.2ZM1095,1917.1L1106.1,1914.9L1111.7,1914.9L1111.7,1920.3L1100.6,1922.5L1095,1922.5ZM1106.1,1914.9L1117.3,1912.6L1122.9,1912.6L1122.9,1918L1111.7,1920.3L1106.1,1920.3ZM1117.3,1912.6L1128.5,1911.5L1134.1,1911.5L1134.1,1916.9L1122.9,1918L1117.3,1918ZM1128.5,1911.5L1134.1,1911.5L1145.3,1912.1L1145.3,1917.5L1139.7,1917.5L1128.5,1916.9ZM1139.7,1912.1L1145.3,1912.1L1156.4,1913.6L1156.4,1919L1150.8,1919L1139.7,1917.5ZM1150.8,1913.6L1156.4,1913.6L1167.6,1915.6L1167.6,1921L1162,1921L1150.8,1919ZM1162,1915.6L1167.6,1915.6L1178.8,1917.9L1178.8,1923.3L1173.2,1923.3L1162,1921ZM1173.2,1917.9L1178.8,1917.9L1190,1921.9L1190,1927.3L1184.4,1927.3L1173.2,1923.3ZM1184.4,1921.9L1190,1921.9L1201.1,1926.2L1201.1,1931.6L1195.5,1931.6L1184.4,1927.3ZM1195.5,1926.2L1201.1,1926.2L1212.3,1928.2L1212.3,1933.6L1206.7,1933.6L1195.5,1931.6ZM1206.7,1928.2L1223.5,1928.2L1223.5,1933.6L1206.7,1933.6ZM1217.9,1928.2L1229.1,1927.9L1234.7,1927.9L1234.7,1933.3L1223.5,1933.6L1217.9,1933.6ZM1229.1,1927.9L1240.2,1927.5L1245.8,1927.5L1245.8,1932.9L1234.7,1933.3L1229.1,1933.3ZM1240.2,1927.5L1251.4,1927L1257,1927L1257,1932.4L1245.8,1932.9L1240.2,1932.9ZM1251.4,1927L1262.6,1924L1268.2,1924L1268.2,1929.4L1257,1932.4L1251.4,1932.4ZM1262.6,1924L1273.8,1917.7L1279.4,1917.7L1279.4,1923.1L1268.2,1929.4L1262.6,1929.4ZM1273.8,1917.7L1284.9,1913.3L1290.5,1913.3L1290.5,1918.7L1279.4,1923.1L1273.8,1923.1ZM1284.9,1913.3L1296.1,1910.8L1301.7,1910.8L1301.7,1916.2L1290.5,1918.7L1284.9,1918.7ZM1296.1,1910.8L1306.5,1908.7L1312.1,1908.7L1312.1,1914.1L1301.7,1916.2L1296.1,1916.2ZM1306.5,1908.7L1312.1,1908.7L1324,1921.5L1324,1926.9L1318.4,1926.9L1306.5,1914.1ZM1318.4,1921.5L1329.5,1908.5L1335.1,1908.5L1335.1,1913.9L1324,1926.9L1318.4,1926.9ZM1329.5,1908.5L1335.1,1908.5L1346.3,1923.3L1346.3,1928.7L1340.7,1928.7L1329.5,1913.9ZM1340.7,1923.3L1346.3,1923.3L1357.5,1934.5L1357.5,1939.9L1351.9,1939.9L1340.7,1928.7ZM1351.9,1934.5L1363,1869.4L1368.6,1869.4L1368.6,1874.8L1357.5,1939.9L1351.9,1939.9ZM1363,1869.4L1368.6,1869.4L1379.8,1932.6L1379.8,1938L1374.2,1938L1363,1874.8ZM1374.2,1932.6L1385.3,1906.6L1390.9,1906.6L1390.9,1912L1379.8,1938L1374.2,1938ZM1385.3,1906.6L1390.9,1906.6L1402.1,1914L1402.1,1919.4L1396.5,1919.4L1385.3,1912ZM1396.5,1914L1402.1,1914L1413.3,1951.3L1413.3,1956.7L1407.7,1956.7L1396.5,1919.4ZM1407.7,1951.3L1418.8,1843.3L1424.4,1843.3L1424.4,1848.7L1413.3,1956.7L1407.7,1956.7ZM1418.8,1843.3L1424.4,1843.3L1435.6,1975.4L1435.6,1980.8L1430,1980.8L1418.8,1848.7ZM1430,1975.4L1441.2,1862.9L1446.8,1862.9L1446.8,1868.3L1435.6,1980.8L1430,1980.8ZM1441.2,1862.9L1446.8,1862.9L1454.2,1986.6L1454.2,1992L1448.6,1992L1441.2,1868.3ZM1448.6,1986.6L1454.2,1986.6L1456.6,2097.3L1456.6,2102.7L1451,2102.7L1448.6,1992ZM1451,2097.3L1456.6,2097.3L1458.6,2757.3L1458.6,2762.7L1453,2762.7L1451,2102.7Z" fill="#ff00ff" stroke="none"/>
<path d="M267,1970.1L268,1969.6L273.6,1969.6L273.6,1975L272.6,1975.5L267,1975.5ZM268,1969.6L279.2,1964.3L284.8,1964.3L284.8,1969.7L273.6,1975L268,1975ZM279.2,1964.3L290.4,1958.7L296,1958.7L296,1964.1L284.8,1969.7L279.2,1969.7ZM290.4,1958.7L301.5,1953.8L307.1,1953.8L307.1,1959.2L296,1964.1L290.4,1964.1ZM301.5,1953.8L312.7,1950.6L318.3,1950.6L318.3,1956L307.1,1959.2L301.5,1959.2ZM312.7,1950.6L323.9,1949.2L329.5,1949.2L329.5,1954.6L318.3,1956L312.7,1956ZM323.9,1949.2L329.5,1949.2L340.7,1951L340.7,1956.4L335.1,1956.4L323.9,1954.6ZM335.1,1951L340.7,1951L351.8,1955.5L351.8,1960.9L346.2,1960.9L335.1,1956.4ZM346.2,1955.5L351.8,1955.5L363,1960.9L363,1966.3L357.4,1966.3L346.2,1960.9ZM357.4,1960.9L363,1960.9L374.2,1965.4L374.2,1970.8L368.6,1970.8L357.4,1966.3ZM368.6,1965.4L374.2,1965.4L385.4,1967.3L385.4,1972.7L379.8,1972.7L368.6,1970.8ZM379.8,1967.3L390.9,1958.3L396.5,1958.3L396.5,1963.7L385.4,1972.7L379.8,1972.7ZM390.9,1958.3L402.1,1944.1L407.7,1944.1L407.7,1949.5L396.5,1963.7L390.9,1963.7ZM402.1,1944.1L413.3,1936.6L418.9,1936.6L418.9,1942L407.7,1949.5L402.1,1949.5ZM413.3,1936.6L418.9,1936.6L430,1943.1L430,1948.5L424.4,1948.5L413.3,1942ZM424.4,1943.1L430,1943.1L441.2,1955.2L441.2,1960.6L435.6,1960.6L424.4,1948.5ZM435.6,1955.2L441.2,1955.2L452.4,1961.7L452.4,1967.1L446.8,1967.1L435.6,1960.6ZM446.8,1961.7L458,1954.5L463.6,1954.5L463.6,1959.9L452.4,1967.1L446.8,1967.1ZM458,1954.5L469.2,1941L474.8,1941L474.8,1946.4L463.6,1959.9L458,1959.9ZM469.2,1941L480.3,1933.8L485.9,1933.8L485.9,1939.2L474.8,1946.4L469.2,1946.4ZM480.3,1933.8L485.9,1933.8L497.1,1940.3L497.1,1945.7L491.5,1945.7L480.3,1939.2ZM491.5,1940.3L497.1,1940.3L508.3,1952.4L508.3,1957.8L502.7,1957.8L491.5,1945.7ZM502.7,1952.4L508.3,1952.4L519.5,1958.9L519.5,1964.3L513.9,1964.3L502.7,1957.8ZM513.9,1958.9L525,1952.4L530.6,1952.4L530.6,1957.8L519.5,1964.3L513.9,1964.3ZM525,1952.4L536.2,1940.3L541.8,1940.3L541.8,1945.7L530.6,1957.8L525,1957.8ZM536.2,1940.3L547.4,1933.8L553,1933.8L553,1939.2L541.8,1945.7L536.2,1945.7ZM547.4,1933.8L553,1933.8L564.2,1943.6L564.2,1949L558.6,1949L547.4,1939.2ZM558.6,1943.6L564.2,1943.6L575.3,1953.3L575.3,1958.7L569.7,1958.7L558.6,1949ZM569.7,1953.3L580.9,1949.7L586.5,1949.7L586.5,1955.1L575.3,1958.7L569.7,1958.7ZM580.9,1949.7L592.1,1943L597.7,1943L597.7,1948.4L586.5,1955.1L580.9,1955.1ZM592.1,1943L603.2,1939.4L608.8,1939.4L608.8,1944.8L597.7,1948.4L592.1,1948.4ZM603.2,1939.4L608.8,1939.4L620,1945L620,1950.4L614.4,1950.4L603.2,1944.8ZM614.4,1945L620,1945L631.2,1950.6L631.2,1956L625.6,1956L614.4,1950.4ZM625.6,1950.6L636.8,1947.5L642.4,1947.5L642.4,1952.9L631.2,1956L625.6,1956ZM636.8,1947.5L648,1940.8L653.6,1940.8L653.6,1946.2L642.4,1952.9L636.8,1952.9ZM648,1940.8L659.1,1934.1L664.7,1934.1L664.7,1939.5L653.6,1946.2L648,1946.2ZM659.1,1934.1L670.3,1931L675.9,1931L675.9,1936.4L664.7,1939.5L659.1,1939.5ZM670.3,1931L675.9,1931L687.1,1937.9L687.1,1943.3L681.5,1943.3L670.3,1936.4ZM681.5,1937.9L687.1,1937.9L698.3,1950.7L698.3,1956.1L692.7,1956.1L681.5,1943.3ZM692.7,1950.7L698.3,1950.7L709.4,1957.5L709.4,1962.9L703.8,1962.9L692.7,1956.1ZM703.8,1957.5L715,1953L720.6,1953L720.6,1958.4L709.4,1962.9L703.8,1962.9ZM715,1953L726.2,1942.9L731.8,1942.9L731.8,1948.3L720.6,1958.4L715,1958.4ZM726.2,1942.9L737.4,1932.8L743,1932.8L743,1938.2L731.8,1948.3L726.2,1948.3ZM737.4,1932.8L748.5,1928.2L754.1,1928.2L754.1,1933.6L743,1938.2L737.4,1938.2ZM748.5,1928.2L754.1,1928.2L765.3,1932.8L765.3,1938.2L759.7,1938.2L748.5,1933.6ZM759.7,1932.8L765.3,1932.8L776.5,1941.7L776.5,1947.1L770.9,1947.1L759.7,1938.2ZM770.9,1941.7L776.5,1941.7L787.7,1947.7L787.7,1953.1L782.1,1953.1L770.9,1947.1ZM782.1,1947.7L787.7,1947.7L798.8,1948.9L798.8,1954.3L793.2,1954.3L782.1,1953.1ZM793.2,1948.9L798.8,1948.9L810,1949.8L810,1955.2L804.4,1955.2L793.2,1954.3ZM804.4,1949.8L810,1949.8L821.2,1950.4L821.2,1955.8L815.6,1955.8L804.4,1955.2ZM815.6,1950.4L821.2,1950.4L832.3,1950.6L832.3,1956L826.7,1956L815.6,1955.8ZM826.7,1950.6L837.9,1948.2L843.5,1948.2L843.5,1953.6L832.3,1956L826.7,1956ZM837.9,1948.2L849.1,1944.1L854.7,1944.1L854.7,1949.5L843.5,1953.6L837.9,1953.6ZM849.1,1944.1L860.3,1938.4L865.9,1938.4L865.9,1943.8L854.7,1949.5L849.1,1949.5ZM860.3,1938.4L871.4,1933.2L877,1933.2L877,1938.6L865.9,1943.8L860.3,1943.8ZM871.4,1933.2L882.6,1931L888.2,1931L888.2,1936.4L877,1938.6L871.4,1938.6ZM882.6,1931L888.2,1931L899.4,1933.8L899.4,1939.2L893.8,1939.2L882.6,1936.4ZM893.8,1933.8L899.4,1933.8L910.6,1940.4L910.6,1945.8L905,1945.8L893.8,1939.2ZM905,1940.4L910.6,1940.4L921.8,1948.2L921.8,1953.6L916.2,1953.6L905,1945.8ZM916.2,1948.2L921.8,1948.2L932.9,1954.8L932.9,1960.2L927.3,1960.2L916.2,1953.6ZM927.3,1954.8L932.9,1954.8L944.1,1957.5L944.1,1962.9L938.5,1962.9L927.3,1960.2ZM938.5,1957.5L949.7,1954.8L955.3,1954.8L955.3,1960.2L944.1,1962.9L938.5,1962.9ZM949.7,1954.8L960.9,1948.2L966.5,1948.2L966.5,1953.6L955.3,1960.2L949.7,1960.2ZM960.9,1948.2L972,1940.4L977.6,1940.4L977.6,1945.8L966.5,1953.6L960.9,1953.6ZM972,1940.4L983.2,1933.8L988.8,1933.8L988.8,1939.2L977.6,1945.8L972,1945.8ZM983.2,1933.8L994.4,1931L1000,1931L1000,1936.4L988.8,1939.2L983.2,1939.2ZM994.4,1931L1000,1931L1011.2,1932.4L1011.2,1937.8L1005.6,1937.8L994.4,1936.4ZM1005.6,1932.4L1011.2,1932.4L1022.3,1935.8L1022.3,1941.2L1016.7,1941.2L1005.6,1937.8ZM1016.7,1935.8L1022.3,1935.8L1033.5,1939.9L1033.5,1945.3L1027.9,1945.3L1016.7,1941.2ZM1027.9,1939.9L1033.5,1939.9L1044.7,1943.3L1044.7,1948.7L1039.1,1948.7L1027.9,1945.3ZM1039.1,1943.3L1044.7,1943.3L1055.8,1945.8L1055.8,1951.2L1050.2,1951.2L1039.1,1948.7ZM1050.2,1945.8L1055.8,1945.8L1067,1948.4L1067,1953.8L1061.4,1953.8L1050.2,1951.2ZM1061.4,1948.4L1067,1948.4L1078.2,1950.8L1078.2,1956.2L1072.6,1956.2L1061.4,1953.8ZM1072.6,1950.8L1078.2,1950.8L1089.4,1952.6L1089.4,1958L1083.8,1958L1072.6,1956.2ZM1083.8,1952.6L1089.4,1952.6L1100.6,1953.3L1100.6,1958.7L1095,1958.7L1083.8,1958ZM1095,1953.3L1111.7,1953.3L1111.7,1958.7L1095,1958.7ZM1106.1,1953.3L1117.3,1953.1L1122.9,1953.1L1122.9,1958.5L1111.7,1958.7L1106.1,1958.7ZM1117.3,1953.1L1128.5,1949.8L1134.1,1949.8L1134.1,1955.2L1122.9,1958.5L1117.3,1958.5ZM1128.5,1949.8L1139.7,1943.8L1145.3,1943.8L1145.3,1949.2L1134.1,1955.2L1128.5,1955.2ZM1139.7,1943.8L1150.8,1937.2L1156.4,1937.2L1156.4,1942.6L1145.3,1949.2L1139.7,1949.2ZM1150.8,1937.2L1162,1931.8L1167.6,1931.8L1167.6,1937.2L1156.4,1942.6L1150.8,1942.6ZM1162,1931.8L1173.2,1929.6L1178.8,1929.6L1178.8,1935L1167.6,1937.2L1162,1937.2ZM1173.2,1929.6L1178.8,1929.6L1190,1931.2L1190,1936.6L1184.4,1936.6L1173.2,1935ZM1184.4,1931.2L1190,1931.2L1201.1,1935.1L1201.1,1940.5L1195.5,1940.5L1184.4,1936.6ZM1195.5,1935.1L1201.1,1935.1L1212.3,1940.1L1212.3,1945.5L1206.7,1945.5L1195.5,1940.5ZM1206.7,1940.1L1212.3,1940.1L1223.5,1945.1L1223.5,1950.5L1217.9,1950.5L1206.7,1945.5ZM1217.9,1945.1L1223.5,1945.1L1234.7,1949L1234.7,1954.4L1229.1,1954.4L1217.9,1950.5ZM1229.1,1949L1234.7,1949L1245.8,1950.6L1245.8,1956L1240.2,1956L1229.1,1954.4ZM1240.2,1950.6L1251.4,1949.7L1257,1949.7L1257,1955.1L1245.8,1956L1240.2,1956ZM1251.4,1949.7L1262.6,1947.4L1268.2,1947.4L1268.2,1952.8L1257,1955.1L1251.4,1955.1ZM1262.6,1947.4L1273.8,1944.2L1279.4,1944.2L1279.4,1949.6L1268.2,1952.8L1262.6,1952.8ZM1273.8,1944.2L1284.9,1940.5L1290.5,1940.5L1290.5,1945.9L1279.4,1949.6L1273.8,1949.6ZM1284.9,1940.5L1296.1,1936.8L1301.7,1936.8L1301.7,1942.2L1290.5,1945.9L1284.9,1945.9ZM1296.1,1936.8L1306.5,1933.8L1312.1,1933.8L1312.1,1939.2L1301.7,1942.2L1296.1,1942.2ZM1306.5,1933.8L1312.1,1933.8L1331.4,1939.2L1331.4,1944.6L1325.8,1944.6L1306.5,1939.2ZM1325.8,1939.2L1331.4,1939.2L1350,1940.1L1350,1945.5L1344.4,1945.5L1325.8,1944.6ZM1344.4,1940.1L1350,1940.1L1357.5,1942L1357.5,1947.4L1351.9,1947.4L1344.4,1945.5ZM1351.9,1942L1357.5,1942L1368.6,1953.1L1368.6,1958.5L1363,1958.5L1351.9,1947.4ZM1363,1953.1L1374.2,1942L1379.8,1942L1379.8,1947.4L1368.6,1958.5L1363,1958.5ZM1374.2,1942L1385.3,1932.6L1390.9,1932.6L1390.9,1938L1379.8,1947.4L1374.2,1947.4ZM1385.3,1932.6L1390.9,1932.6L1402.1,1947.5L1402.1,1952.9L1396.5,1952.9L1385.3,1938ZM1396.5,1947.5L1407.7,1927.1L1413.3,1927.1L1413.3,1932.5L1402.1,1952.9L1396.5,1952.9ZM1407.7,1927.1L1418.8,1904.7L1424.4,1904.7L1424.4,1910.1L1413.3,1932.5L1407.7,1932.5ZM1418.8,1904.7L1424.4,1904.7L1435.6,1964.3L1435.6,1969.7L1430,1969.7L1418.8,1910.1ZM1430,1964.3L1441.2,1951.3L1446.8,1951.3L1446.8,1956.7L1435.6,1969.7L1430,1969.7ZM1441.2,1951.3L1446.8,1951.3L1449,2097.3L1449,2102.7L1443.4,2102.7L1441.2,1956.7ZM1443.4,2097.3L1449,2097.3L1453.8,2757.3L1453.8,2762.7L1448.2,2762.7L1443.4,2102.7Z" fill="#669900" stroke="none"/>
<path d="M268.1,1944L1461.5,1944L1461.5,1949L268.1,1949ZM1456.1,1944L1461.5,1944L1461.5,2762.5L1456.1,2762.5Z" fill="#000000" stroke="none"/>
</g>
<rect x="277.60" y="2125.50" width="651.80" height="581.40" fill="#fff" stroke="#262626" stroke-width="3.2"/>
<g>
<line x1="285.60" y1="2167.30" x2="357.90" y2="2167.30" stroke="#0000ff" stroke-width="5"/>
<text transform="translate(366.45 2189.70) scale(0.9977 1.0445)" font-family="'Liberation Sans', sans-serif" font-size="58" fill="#000" stroke="#000" stroke-width="0.62231" stroke-linejoin="round">ESSWnew,  </text>
<text transform="translate(689.30 2189.73) scale(1.1498 1.0341)" font-family="'Liberation Serif', serif" font-size="58" fill="#000" stroke="#000" stroke-width="0.434844" stroke-linejoin="round">β</text>
<text transform="translate(727.36 2189.69) scale(1.0043 0.7383)" font-family="'Liberation Sans', sans-serif" font-size="58" fill="#000" stroke="#000" stroke-width="1.69271" stroke-linejoin="round">=</text>
<text transform="translate(761.13 2189.70) scale(1.0000 1.0510)" font-family="'Liberation Sans', sans-serif" font-size="58.5" fill="#000" stroke="#000" stroke-width="0.618458" stroke-linejoin="round">1.5</text>
</g>
<g>
<line x1="285.60" y1="2250.50" x2="357.90" y2="2250.50" stroke="#ff0000" stroke-width="5"/>
<text transform="translate(366.45 2272.90) scale(0.9977 1.0445)" font-family="'Liberation Sans', sans-serif" font-size="58" fill="#000" stroke="#000" stroke-width="0.62231" stroke-linejoin="round">ESSWnew,  </text>
<text transform="translate(689.30 2272.93) scale(1.1498 1.0341)" font-family="'Liberation Serif', serif" font-size="58" fill="#000" stroke="#000" stroke-width="0.434844" stroke-linejoin="round">β</text>
<text transform="translate(727.36 2272.89) scale(1.0043 0.7383)" font-family="'Liberation Sans', sans-serif" font-size="58" fill="#000" stroke="#000" stroke-width="1.69271" stroke-linejoin="round">=</text>
<text transform="translate(761.13 2272.90) scale(1.0000 1.0356)" font-family="'Liberation Sans', sans-serif" font-size="58.5" fill="#000" stroke="#000" stroke-width="0.627675" stroke-linejoin="round">2.5</text>
</g>
<g>
<line x1="285.60" y1="2333.50" x2="357.90" y2="2333.50" stroke="#00ff00" stroke-width="6.8"/>
<text transform="translate(366.45 2355.90) scale(0.9977 1.0445)" font-family="'Liberation Sans', sans-serif" font-size="58" fill="#000" stroke="#000" stroke-width="0.62231" stroke-linejoin="round">ESSWnew,  </text>
<text transform="translate(689.30 2355.93) scale(1.1498 1.0341)" font-family="'Liberation Serif', serif" font-size="58" fill="#000" stroke="#000" stroke-width="0.434844" stroke-linejoin="round">β</text>
<text transform="translate(727.36 2355.89) scale(1.0043 0.7383)" font-family="'Liberation Sans', sans-serif" font-size="58" fill="#000" stroke="#000" stroke-width="1.69271" stroke-linejoin="round">=</text>
<text transform="translate(761.60 2355.90) scale(1.0000 1.0356)" font-family="'Liberation Sans', sans-serif" font-size="58.5" fill="#000" stroke="#000" stroke-width="0.627675" stroke-linejoin="round">25.5</text>
</g>
<g>
<line x1="285.60" y1="2416.30" x2="357.90" y2="2416.30" stroke="#00ffff" stroke-width="4.9"/>
<text transform="translate(366.44 2438.70) scale(0.9997 1.0445)" font-family="'Liberation Sans', sans-serif" font-size="58" fill="#000" stroke="#000" stroke-width="0.62231" stroke-linejoin="round">ESSW, </text>
<text transform="translate(569.40 2438.73) scale(1.1498 1.0341)" font-family="'Liberation Serif', serif" font-size="58" fill="#000" stroke="#000" stroke-width="0.434844" stroke-linejoin="round">β</text>
<text transform="translate(607.46 2438.69) scale(1.0043 0.7383)" font-family="'Liberation Sans', sans-serif" font-size="58" fill="#000" stroke="#000" stroke-width="1.69271" stroke-linejoin="round">=</text>
<text transform="translate(641.23 2438.70) scale(1.0000 1.0510)" font-family="'Liberation Sans', sans-serif" font-size="58.5" fill="#000" stroke="#000" stroke-width="0.618458" stroke-linejoin="round">1.5</text>
</g>
<g>
<line x1="285.60" y1="2499.70" x2="357.90" y2="2499.70" stroke="#ff00ff" stroke-width="4.9"/>
<text transform="translate(366.44 2522.10) scale(0.9997 1.0445)" font-family="'Liberation Sans', sans-serif" font-size="58" fill="#000" stroke="#000" stroke-width="0.62231" stroke-linejoin="round">ESSW, </text>
<text transform="translate(569.40 2522.13) scale(1.1498 1.0341)" font-family="'Liberation Serif', serif" font-size="58" fill="#000" stroke="#000" stroke-width="0.434844" stroke-linejoin="round">β</text>
<text transform="translate(607.46 2522.09) scale(1.0043 0.7383)" font-family="'Liberation Sans', sans-serif" font-size="58" fill="#000" stroke="#000" stroke-width="1.69271" stroke-linejoin="round">=</text>
<text transform="translate(641.23 2522.10) scale(1.0000 1.0356)" font-family="'Liberation Sans', sans-serif" font-size="58.5" fill="#000" stroke="#000" stroke-width="0.627675" stroke-linejoin="round">2.5</text>
</g>
<g>
<line x1="285.60" y1="2582.40" x2="357.90" y2="2582.40" stroke="#669900" stroke-width="6.6"/>
<text transform="translate(366.44 2604.80) scale(0.9997 1.0445)" font-family="'Liberation Sans', sans-serif" font-size="58" fill="#000" stroke="#000" stroke-width="0.62231" stroke-linejoin="round">ESSW, </text>
<text transform="translate(569.40 2604.83) scale(1.1498 1.0341)" font-family="'Liberation Serif', serif" font-size="58" fill="#000" stroke="#000" stroke-width="0.434844" stroke-linejoin="round">β</text>
<text transform="translate(607.46 2604.79) scale(1.0043 0.7383)" font-family="'Liberation Sans', sans-serif" font-size="58" fill="#000" stroke="#000" stroke-width="1.69271" stroke-linejoin="round">=</text>
<text transform="translate(641.70 2604.80) scale(1.0000 1.0356)" font-family="'Liberation Sans', sans-serif" font-size="58.5" fill="#000" stroke="#000" stroke-width="0.627675" stroke-linejoin="round">25.5</text>
</g>
<g>
<line x1="285.60" y1="2665.70" x2="357.90" y2="2665.70" stroke="#000000" stroke-width="6.3"/>
<text transform="translate(366.49 2695.70) scale(0.9909 1.0601)" font-family="'Liberation Sans', sans-serif" font-size="58" fill="#000" stroke="#000" stroke-width="0.613172" stroke-linejoin="round">Exact</text>
</g>
<clipPath id="clip3"><rect x="268.30" y="3005.10" width="1524.80" height="1201.00"/></clipPath>
<g stroke="#262626" stroke-width="3.3" fill="none" stroke-linecap="butt">
<rect x="270.80" y="3007.60" width="1519.80" height="1196.00"/>
<line x1="269.20" y1="3007.50" x2="1792.20" y2="3007.50" stroke-width="4.7"/>
<line x1="504.62" y1="4203.60" x2="504.62" y2="4187.10"/>
<line x1="504.62" y1="3007.60" x2="504.62" y2="3024.10"/>
<line x1="738.43" y1="4203.60" x2="738.43" y2="4187.10"/>
<line x1="738.43" y1="3007.60" x2="738.43" y2="3024.10"/>
<line x1="972.25" y1="4203.60" x2="972.25" y2="4187.10"/>
<line x1="972.25" y1="3007.60" x2="972.25" y2="3024.10"/>
<line x1="1206.06" y1="4203.60" x2="1206.06" y2="4187.10"/>
<line x1="1206.06" y1="3007.60" x2="1206.06" y2="3024.10"/>
<line x1="1439.88" y1="4203.60" x2="1439.88" y2="4187.10"/>
<line x1="1439.88" y1="3007.60" x2="1439.88" y2="3024.10"/>
<line x1="1673.69" y1="4203.60" x2="1673.69" y2="4187.10"/>
<line x1="1673.69" y1="3007.60" x2="1673.69" y2="3024.10"/>
<line x1="270.80" y1="3206.93" x2="287.30" y2="3206.93"/>
<line x1="1790.60" y1="3206.93" x2="1774.10" y2="3206.93"/>
<line x1="270.80" y1="3406.27" x2="287.30" y2="3406.27"/>
<line x1="1790.60" y1="3406.27" x2="1774.10" y2="3406.27"/>
<line x1="270.80" y1="3605.60" x2="287.30" y2="3605.60"/>
<line x1="1790.60" y1="3605.60" x2="1774.10" y2="3605.60"/>
<line x1="270.80" y1="3804.93" x2="287.30" y2="3804.93"/>
<line x1="1790.60" y1="3804.93" x2="1774.10" y2="3804.93"/>
<line x1="270.80" y1="4004.27" x2="287.30" y2="4004.27"/>
<line x1="1790.60" y1="4004.27" x2="1774.10" y2="4004.27"/>
</g>
<text transform="translate(270.80 4279.80) scale(1 1.07)" font-family="'Liberation Sans', sans-serif" font-size="58.1" text-anchor="middle" fill="#262626">0.74</text>
<text transform="translate(504.62 4279.80) scale(1 1.07)" font-family="'Liberation Sans', sans-serif" font-size="58.1" text-anchor="middle" fill="#262626">0.76</text>
<text transform="translate(738.43 4279.80) scale(1 1.07)" font-family="'Liberation Sans', sans-serif" font-size="58.1" text-anchor="middle" fill="#262626">0.78</text>
<text transform="translate(972.25 4279.80) scale(1 1.07)" font-family="'Liberation Sans', sans-serif" font-size="58.1" text-anchor="middle" fill="#262626">0.8</text>
<text transform="translate(1206.06 4279.80) scale(1 1.07)" font-family="'Liberation Sans', sans-serif" font-size="58.1" text-anchor="middle" fill="#262626">0.82</text>
<text transform="translate(1439.88 4279.80) scale(1 1.07)" font-family="'Liberation Sans', sans-serif" font-size="58.1" text-anchor="middle" fill="#262626">0.84</text>
<text transform="translate(1673.69 4279.80) scale(1 1.07)" font-family="'Liberation Sans', sans-serif" font-size="58.1" text-anchor="middle" fill="#262626">0.86</text>
<text transform="translate(254.30 3037.70) scale(1 1.07)" font-family="'Liberation Sans', sans-serif" font-size="58.1" text-anchor="end" fill="#262626">-0.87</text>
<text transform="translate(254.30 3237.03) scale(1 1.07)" font-family="'Liberation Sans', sans-serif" font-size="58.1" text-anchor="end" fill="#262626">-0.88</text>
<text transform="translate(254.30 3436.37) scale(1 1.07)" font-family="'Liberation Sans', sans-serif" font-size="58.1" text-anchor="end" fill="#262626">-0.89</text>
<text transform="translate(254.30 3635.70) scale(1 1.07)" font-family="'Liberation Sans', sans-serif" font-size="58.1" text-anchor="end" fill="#262626">-0.9</text>
<text transform="translate(254.30 3835.03) scale(1 1.07)" font-family="'Liberation Sans', sans-serif" font-size="58.1" text-anchor="end" fill="#262626">-0.91</text>
<text transform="translate(254.30 4034.37) scale(1 1.07)" font-family="'Liberation Sans', sans-serif" font-size="58.1" text-anchor="end" fill="#262626">-0.92</text>
<text transform="translate(254.30 4233.70) scale(1 1.07)" font-family="'Liberation Sans', sans-serif" font-size="58.1" text-anchor="end" fill="#262626">-0.93</text>
<text transform="translate(1030.70 4354.00) scale(1 1.01)" font-family="'Liberation Sans', sans-serif" font-size="60.5" text-anchor="middle" fill="#262626">x</text>
<text transform="translate(90.60 3606.80) rotate(-90) scale(1 1.075)" font-family="'Liberation Sans', sans-serif" font-size="60.5" text-anchor="middle" fill="#262626">By</text>
<g clip-path="url(#clip3)" fill="none" stroke-linejoin="round" stroke-linecap="butt" shape-rendering="crispEdges">
<path d="M268.4,3389.4L274,3389.4L288.2,3392.6L288.2,3398L282.6,3398L268.4,3394.8ZM282.6,3392.6L288.2,3392.6L302.8,3396.3L302.8,3401.7L297.2,3401.7L282.6,3398ZM297.2,3396.3L302.8,3396.3L317.4,3399.3L317.4,3404.7L311.8,3404.7L297.2,3401.7ZM311.8,3399.3L317.4,3399.3L332.1,3400.6L332.1,3406L326.5,3406L311.8,3404.7ZM326.5,3400.6L341.1,3397.1L346.7,3397.1L346.7,3402.5L332.1,3406L326.5,3406ZM341.1,3397.1L355.7,3391L361.3,3391L361.3,3396.4L346.7,3402.5L341.1,3402.5ZM355.7,3391L370.3,3387.9L375.9,3387.9L375.9,3393.3L361.3,3396.4L355.7,3396.4ZM370.3,3387.9L384.9,3386.1L390.5,3386.1L390.5,3391.5L375.9,3393.3L370.3,3393.3ZM384.9,3386.1L399.5,3383.6L405.1,3383.6L405.1,3389L390.5,3391.5L384.9,3391.5ZM399.5,3383.6L414.1,3377L419.7,3377L419.7,3382.4L405.1,3389L399.5,3389ZM414.1,3377L428.7,3372.8L434.3,3372.8L434.3,3378.2L419.7,3382.4L414.1,3382.4ZM428.7,3372.8L443.4,3369.9L449,3369.9L449,3375.3L434.3,3378.2L428.7,3378.2ZM443.4,3369.9L458,3367.8L463.6,3367.8L463.6,3373.2L449,3375.3L443.4,3375.3ZM458,3367.8L472.6,3367.1L478.2,3367.1L478.2,3372.5L463.6,3373.2L458,3373.2ZM472.6,3367.1L478.2,3367.1L492.8,3373L492.8,3378.4L487.2,3378.4L472.6,3372.5ZM487.2,3373L492.8,3373L507.4,3381.2L507.4,3386.6L501.8,3386.6L487.2,3378.4ZM501.8,3381.2L507.4,3381.2L522,3386.5L522,3391.9L516.4,3391.9L501.8,3386.6ZM516.4,3386.5L522,3386.5L536.6,3392.4L536.6,3397.8L531,3397.8L516.4,3391.9ZM531,3392.4L536.6,3392.4L551.2,3404.4L551.2,3409.8L545.6,3409.8L531,3397.8ZM545.6,3404.4L551.2,3404.4L565.9,3415.2L565.9,3420.6L560.3,3420.6L545.6,3409.8ZM560.3,3415.2L565.9,3415.2L580.5,3415.4L580.5,3420.8L574.9,3420.8L560.3,3420.6ZM574.9,3415.4L595.1,3415.4L595.1,3420.8L574.9,3420.8ZM589.5,3415.4L609.7,3415.4L609.7,3420.8L589.5,3420.8ZM604.1,3415.4L618.7,3411.7L624.3,3411.7L624.3,3417.1L609.7,3420.8L604.1,3420.8ZM618.7,3411.7L633.3,3399.6L638.9,3399.6L638.9,3405L624.3,3417.1L618.7,3417.1ZM633.3,3399.6L647.9,3376.3L653.5,3376.3L653.5,3381.7L638.9,3405L633.3,3405ZM647.9,3376.3L662.6,3368.6L668.2,3368.6L668.2,3374L653.5,3381.7L647.9,3381.7ZM662.6,3368.6L677.2,3367.4L682.8,3367.4L682.8,3372.8L668.2,3374L662.6,3374ZM677.2,3367.4L691.8,3367.1L697.4,3367.1L697.4,3372.5L682.8,3372.8L677.2,3372.8ZM691.8,3367.1L697.4,3367.1L712,3371.7L712,3377.1L706.4,3377.1L691.8,3372.5ZM706.4,3371.7L712,3371.7L726.6,3382.7L726.6,3388.1L721,3388.1L706.4,3377.1ZM721,3382.7L726.6,3382.7L741.2,3401.5L741.2,3406.9L735.6,3406.9L721,3388.1ZM735.6,3401.5L741.2,3401.5L755.8,3414.2L755.8,3419.6L750.2,3419.6L735.6,3406.9ZM750.2,3414.2L755.8,3414.2L770.4,3418.2L770.4,3423.6L764.8,3423.6L750.2,3419.6ZM764.8,3418.2L770.4,3418.2L785.1,3426.9L785.1,3432.3L779.5,3432.3L764.8,3423.6ZM779.5,3426.9L785.1,3426.9L799.7,3436.1L799.7,3441.5L794.1,3441.5L779.5,3432.3ZM794.1,3436.1L799.7,3436.1L814.3,3439.6L814.3,3445L808.7,3445L794.1,3441.5ZM808.7,3439.6L823.3,3429.9L828.9,3429.9L828.9,3435.3L814.3,3445L808.7,3445ZM823.3,3429.9L837.9,3415.9L843.5,3415.9L843.5,3421.3L828.9,3435.3L823.3,3435.3ZM837.9,3415.9L852.5,3407.4L858.1,3407.4L858.1,3412.8L843.5,3421.3L837.9,3421.3ZM852.5,3407.4L867.1,3404.3L872.7,3404.3L872.7,3409.7L858.1,3412.8L852.5,3412.8ZM867.1,3404.3L881.7,3400.9L887.3,3400.9L887.3,3406.3L872.7,3409.7L867.1,3409.7ZM881.7,3400.9L896.4,3392.3L902,3392.3L902,3397.7L887.3,3406.3L881.7,3406.3ZM896.4,3392.3L911,3385.7L916.6,3385.7L916.6,3391.1L902,3397.7L896.4,3397.7ZM911,3385.7L916.6,3385.7L931.2,3400.1L931.2,3405.5L925.6,3405.5L911,3391.1ZM925.6,3400.1L931.2,3400.1L945.8,3423L945.8,3428.4L940.2,3428.4L925.6,3405.5ZM940.2,3423L945.8,3423L960.4,3442.4L960.4,3447.8L954.8,3447.8L940.2,3428.4ZM954.8,3442.4L960.4,3442.4L975,3449.1L975,3454.5L969.4,3454.5L954.8,3447.8ZM969.4,3449.1L975,3449.1L989.6,3463.6L989.6,3469L984,3469L969.4,3454.5ZM984,3463.6L989.6,3463.6L1004.3,3488L1004.3,3493.4L998.7,3493.4L984,3469ZM998.7,3488L1009.3,3480.6L1014.9,3480.6L1014.9,3486L1004.3,3493.4L998.7,3493.4ZM1009.3,3480.6L1035.1,3320.1L1040.7,3320.1L1040.7,3325.5L1014.9,3486L1009.3,3486ZM1035.1,3320.1L1052.9,3180.2L1058.5,3180.2L1058.5,3185.6L1040.7,3325.5L1035.1,3325.5ZM1052.9,3180.2L1058.9,3159.3L1064.5,3159.3L1064.5,3164.7L1058.5,3185.6L1052.9,3185.6ZM1058.9,3159.3L1072.3,3141.5L1077.9,3141.5L1077.9,3146.9L1064.5,3164.7L1058.9,3164.7ZM1072.3,3141.5L1077.9,3141.5L1091.3,3171.3L1091.3,3176.7L1085.7,3176.7L1072.3,3146.9ZM1085.7,3171.3L1091.3,3171.3L1100.2,3204L1100.2,3209.4L1094.6,3209.4L1085.7,3176.7ZM1094.6,3204L1100.2,3204L1112.4,3227.8L1112.4,3233.2L1106.8,3233.2L1094.6,3209.4ZM1106.8,3227.8L1112.4,3227.8L1127.6,3290.3L1127.6,3295.7L1122,3295.7L1106.8,3233.2ZM1122,3290.3L1127.6,3290.3L1151.4,3364.7L1151.4,3370.1L1145.8,3370.1L1122,3295.7ZM1145.8,3364.7L1151.4,3364.7L1178.2,3436.2L1178.2,3441.6L1172.6,3441.6L1145.8,3370.1ZM1172.6,3436.2L1178.2,3436.2L1187.5,3488.7L1187.5,3494.1L1181.9,3494.1L1172.6,3441.6ZM1181.9,3488.7L1187.5,3488.7L1202.3,3570.6L1202.3,3576L1196.7,3576L1181.9,3494.1ZM1196.7,3570.6L1202.3,3570.6L1217.2,3670.3L1217.2,3675.7L1211.6,3675.7L1196.7,3576ZM1211.6,3670.3L1217.2,3670.3L1226.1,3694.1L1226.1,3699.5L1220.5,3699.5L1211.6,3675.7ZM1220.5,3694.1L1226.1,3694.1L1238.1,3725.4L1238.1,3730.8L1232.5,3730.8L1220.5,3699.5ZM1232.5,3725.4L1247.3,3700.1L1252.9,3700.1L1252.9,3705.5L1238.1,3730.8L1232.5,3730.8ZM1247.3,3700.1L1256.3,3673.3L1261.9,3673.3L1261.9,3678.7L1252.9,3705.5L1247.3,3705.5ZM1256.3,3673.3L1265.2,3643.5L1270.8,3643.5L1270.8,3648.9L1261.9,3678.7L1256.3,3678.7ZM1265.2,3643.5L1277.1,3624.2L1282.7,3624.2L1282.7,3629.6L1270.8,3648.9L1265.2,3648.9ZM1277.1,3624.2L1282.7,3624.2L1297.6,3636.1L1297.6,3641.5L1292,3641.5L1277.1,3629.6ZM1292,3636.1L1297.6,3636.1L1309.5,3670.3L1309.5,3675.7L1303.9,3675.7L1292,3641.5ZM1303.9,3670.3L1309.5,3670.3L1321.4,3713.5L1321.4,3718.9L1315.8,3718.9L1303.9,3675.7ZM1315.8,3713.5L1321.4,3713.5L1345.2,3811.7L1345.2,3817.1L1339.6,3817.1L1315.8,3718.9ZM1339.6,3811.7L1345.2,3811.7L1405.7,4072.2L1405.7,4077.6L1400.1,4077.6L1339.6,3817.1ZM1400.1,4072.2L1405.7,4072.2L1423.5,4166.3L1423.5,4171.7L1417.9,4171.7L1400.1,4077.6ZM1417.9,4166.3L1423.5,4166.3L1431.4,4200.2L1431.4,4205.6L1425.8,4205.6L1417.9,4171.7ZM1425.8,4200.2L1431.4,4200.2L1438.7,4236L1438.7,4241.4L1433.1,4241.4L1425.8,4205.6Z" fill="#0000ff" stroke="none"/>
<path d="M268.4,3382L274,3382L288.2,3384.9L288.2,3390.3L282.6,3390.3L268.4,3387.4ZM282.6,3384.9L288.2,3384.9L302.8,3388L302.8,3393.4L297.2,3393.4L282.6,3390.3ZM297.2,3388L302.8,3388L317.4,3389.4L317.4,3394.8L311.8,3394.8L297.2,3393.4ZM311.8,3389.4L326.5,3387.6L332.1,3387.6L332.1,3393L317.4,3394.8L311.8,3394.8ZM326.5,3387.6L341.1,3383.6L346.7,3383.6L346.7,3389L332.1,3393L326.5,3393ZM341.1,3383.6L355.7,3379.7L361.3,3379.7L361.3,3385.1L346.7,3389L341.1,3389ZM355.7,3379.7L370.3,3375.6L375.9,3375.6L375.9,3381L361.3,3385.1L355.7,3385.1ZM370.3,3375.6L384.9,3371.3L390.5,3371.3L390.5,3376.7L375.9,3381L370.3,3381ZM384.9,3371.3L399.5,3368L405.1,3368L405.1,3373.4L390.5,3376.7L384.9,3376.7ZM399.5,3368L414.1,3366.4L419.7,3366.4L419.7,3371.8L405.1,3373.4L399.5,3373.4ZM414.1,3366.4L428.7,3365.5L434.3,3365.5L434.3,3370.9L419.7,3371.8L414.1,3371.8ZM428.7,3365.5L443.4,3363.2L449,3363.2L449,3368.6L434.3,3370.9L428.7,3370.9ZM443.4,3363.2L458,3359.6L463.6,3359.6L463.6,3365L449,3368.6L443.4,3368.6ZM458,3359.6L472.6,3357.8L478.2,3357.8L478.2,3363.2L463.6,3365L458,3365ZM472.6,3357.8L478.2,3357.8L492.8,3364.2L492.8,3369.6L487.2,3369.6L472.6,3363.2ZM487.2,3364.2L492.8,3364.2L507.4,3371.5L507.4,3376.9L501.8,3376.9L487.2,3369.6ZM501.8,3371.5L507.4,3371.5L522,3376.6L522,3382L516.4,3382L501.8,3376.9ZM516.4,3376.6L522,3376.6L536.6,3383.3L536.6,3388.7L531,3388.7L516.4,3382ZM531,3383.3L536.6,3383.3L551.2,3393.6L551.2,3399L545.6,3399L531,3388.7ZM545.6,3393.6L551.2,3393.6L565.9,3401.5L565.9,3406.9L560.3,3406.9L545.6,3399ZM560.3,3401.5L565.9,3401.5L580.5,3402.4L580.5,3407.8L574.9,3407.8L560.3,3406.9ZM574.9,3402.4L595.1,3402.4L595.1,3407.8L574.9,3407.8ZM589.5,3402.4L609.7,3402.4L609.7,3407.8L589.5,3407.8ZM604.1,3402.4L618.7,3395.8L624.3,3395.8L624.3,3401.2L609.7,3407.8L604.1,3407.8ZM618.7,3395.8L633.3,3383.7L638.9,3383.7L638.9,3389.1L624.3,3401.2L618.7,3401.2ZM633.3,3383.7L647.9,3367L653.5,3367L653.5,3372.4L638.9,3389.1L633.3,3389.1ZM647.9,3367L662.6,3359.4L668.2,3359.4L668.2,3364.8L653.5,3372.4L647.9,3372.4ZM662.6,3359.4L677.2,3358.7L682.8,3358.7L682.8,3364.1L668.2,3364.8L662.6,3364.8ZM677.2,3358.7L691.8,3358.5L697.4,3358.5L697.4,3363.9L682.8,3364.1L677.2,3364.1ZM691.8,3358.5L697.4,3358.5L712,3361.5L712,3366.9L706.4,3366.9L691.8,3363.9ZM706.4,3361.5L712,3361.5L726.6,3370.1L726.6,3375.5L721,3375.5L706.4,3366.9ZM721,3370.1L726.6,3370.1L741.2,3386.1L741.2,3391.5L735.6,3391.5L721,3375.5ZM735.6,3386.1L741.2,3386.1L755.8,3397.5L755.8,3402.9L750.2,3402.9L735.6,3391.5ZM750.2,3397.5L755.8,3397.5L770.4,3406.6L770.4,3412L764.8,3412L750.2,3402.9ZM764.8,3406.6L770.4,3406.6L785.1,3414L785.1,3419.4L779.5,3419.4L764.8,3412ZM779.5,3414L785.1,3414L799.7,3421.1L799.7,3426.5L794.1,3426.5L779.5,3419.4ZM794.1,3421.1L799.7,3421.1L814.3,3424.7L814.3,3430.1L808.7,3430.1L794.1,3426.5ZM808.7,3424.7L823.3,3415.5L828.9,3415.5L828.9,3420.9L814.3,3430.1L808.7,3430.1ZM823.3,3415.5L837.9,3400.5L843.5,3400.5L843.5,3405.9L828.9,3420.9L823.3,3420.9ZM837.9,3400.5L852.5,3396.3L858.1,3396.3L858.1,3401.7L843.5,3405.9L837.9,3405.9ZM852.5,3396.3L867.1,3395.6L872.7,3395.6L872.7,3401L858.1,3401.7L852.5,3401.7ZM867.1,3395.6L881.7,3392.9L887.3,3392.9L887.3,3398.3L872.7,3401L867.1,3401ZM881.7,3392.9L896.4,3382.3L902,3382.3L902,3387.7L887.3,3398.3L881.7,3398.3ZM896.4,3382.3L911,3375.6L916.6,3375.6L916.6,3381L902,3387.7L896.4,3387.7ZM911,3375.6L916.6,3375.6L931.2,3379.3L931.2,3384.7L925.6,3384.7L911,3381ZM925.6,3379.3L931.2,3379.3L945.8,3397.9L945.8,3403.3L940.2,3403.3L925.6,3384.7ZM940.2,3397.9L945.8,3397.9L960.4,3422.4L960.4,3427.8L954.8,3427.8L940.2,3403.3ZM954.8,3422.4L960.4,3422.4L975,3434.3L975,3439.7L969.4,3439.7L954.8,3427.8ZM969.4,3434.3L975,3434.3L989.6,3449.3L989.6,3454.7L984,3454.7L969.4,3439.7ZM984,3449.3L989.6,3449.3L1004.3,3471.9L1004.3,3477.3L998.7,3477.3L984,3454.7ZM998.7,3471.9L1004.3,3471.9L1018.6,3488L1018.6,3493.4L1013,3493.4L998.7,3477.3ZM1013,3488L1035.1,3335L1040.7,3335L1040.7,3340.4L1018.6,3493.4L1013,3493.4ZM1035.1,3335L1047,3230.8L1052.6,3230.8L1052.6,3236.2L1040.7,3340.4L1035.1,3340.4ZM1047,3230.8L1055.9,3156.4L1061.5,3156.4L1061.5,3161.8L1052.6,3236.2L1047,3236.2ZM1055.9,3156.4L1070.8,3116.2L1076.4,3116.2L1076.4,3121.6L1061.5,3161.8L1055.9,3161.8ZM1070.8,3116.2L1076.4,3116.2L1094.2,3141.5L1094.2,3146.9L1088.6,3146.9L1070.8,3121.6ZM1088.6,3141.5L1094.2,3141.5L1106.1,3195.1L1106.1,3200.5L1100.5,3200.5L1088.6,3146.9ZM1100.5,3195.1L1106.1,3195.1L1112.7,3227.8L1112.7,3233.2L1107.1,3233.2L1100.5,3200.5ZM1107.1,3227.8L1112.7,3227.8L1127.9,3290.3L1127.9,3295.7L1122.3,3295.7L1107.1,3233.2ZM1122.3,3290.3L1127.9,3290.3L1151.7,3364.7L1151.7,3370.1L1146.1,3370.1L1122.3,3295.7ZM1146.1,3364.7L1151.7,3364.7L1178.5,3436.2L1178.5,3441.6L1172.9,3441.6L1146.1,3370.1ZM1172.9,3436.2L1178.5,3436.2L1187.5,3487.3L1187.5,3492.7L1181.9,3492.7L1172.9,3441.6ZM1181.9,3487.3L1187.5,3487.3L1202.3,3569.1L1202.3,3574.5L1196.7,3574.5L1181.9,3492.7ZM1196.7,3569.1L1202.3,3569.1L1217.2,3676.3L1217.2,3681.7L1211.6,3681.7L1196.7,3574.5ZM1211.6,3676.3L1217.2,3676.3L1238.1,3741.8L1238.1,3747.2L1232.5,3747.2L1211.6,3681.7ZM1232.5,3741.8L1247.3,3729.9L1252.9,3729.9L1252.9,3735.3L1238.1,3747.2L1232.5,3747.2ZM1247.3,3729.9L1256.3,3700.1L1261.9,3700.1L1261.9,3705.5L1252.9,3735.3L1247.3,3735.3ZM1256.3,3700.1L1265.2,3670.3L1270.8,3670.3L1270.8,3675.7L1261.9,3705.5L1256.3,3705.5ZM1265.2,3670.3L1274.1,3643.5L1279.7,3643.5L1279.7,3648.9L1270.8,3675.7L1265.2,3675.7ZM1274.1,3643.5L1279.7,3643.5L1297.6,3645L1297.6,3650.4L1292,3650.4L1274.1,3648.9ZM1292,3645L1297.6,3645L1309.5,3673.3L1309.5,3678.7L1303.9,3678.7L1292,3650.4ZM1303.9,3673.3L1309.5,3673.3L1321.4,3715L1321.4,3720.4L1315.8,3720.4L1303.9,3678.7ZM1315.8,3715L1321.4,3715L1345.2,3813.2L1345.2,3818.6L1339.6,3818.6L1315.8,3720.4ZM1339.6,3813.2L1345.2,3813.2L1405.7,4073.7L1405.7,4079.1L1400.1,4079.1L1339.6,3818.6ZM1400.1,4073.7L1405.7,4073.7L1423.2,4166.9L1423.2,4172.3L1417.6,4172.3L1400.1,4079.1ZM1417.6,4166.9L1423.2,4166.9L1431.1,4200.2L1431.1,4205.6L1425.5,4205.6L1417.6,4172.3ZM1425.5,4200.2L1431.1,4200.2L1438.4,4236L1438.4,4241.4L1432.8,4241.4L1425.5,4205.6Z" fill="#ff0000" stroke="none"/>
<path d="M268.4,3354.8L274,3354.8L288.2,3360.4L288.2,3365.8L282.6,3365.8L268.4,3360.2ZM282.6,3360.4L288.2,3360.4L302.8,3366.3L302.8,3371.7L297.2,3371.7L282.6,3365.8ZM297.2,3366.3L302.8,3366.3L317.4,3368.9L317.4,3374.3L311.8,3374.3L297.2,3371.7ZM311.8,3368.9L326.5,3367.9L332.1,3367.9L332.1,3373.3L317.4,3374.3L311.8,3374.3ZM326.5,3367.9L341.1,3365.2L346.7,3365.2L346.7,3370.6L332.1,3373.3L326.5,3373.3ZM341.1,3365.2L355.7,3361.5L361.3,3361.5L361.3,3366.9L346.7,3370.6L341.1,3370.6ZM355.7,3361.5L370.3,3357.3L375.9,3357.3L375.9,3362.7L361.3,3366.9L355.7,3366.9ZM370.3,3357.3L384.9,3350.7L390.5,3350.7L390.5,3356.1L375.9,3362.7L370.3,3362.7ZM384.9,3350.7L399.5,3343.3L405.1,3343.3L405.1,3348.7L390.5,3356.1L384.9,3356.1ZM399.5,3343.3L414.1,3338.8L419.7,3338.8L419.7,3344.2L405.1,3348.7L399.5,3348.7ZM414.1,3338.8L428.7,3335.1L434.3,3335.1L434.3,3340.5L419.7,3344.2L414.1,3344.2ZM428.7,3335.1L443.4,3333.6L449,3333.6L449,3339L434.3,3340.5L428.7,3340.5ZM443.4,3333.6L449,3333.6L463.6,3335.6L463.6,3341L458,3341L443.4,3339ZM458,3335.6L463.6,3335.6L478.2,3340.2L478.2,3345.6L472.6,3345.6L458,3341ZM472.6,3340.2L478.2,3340.2L492.8,3345.3L492.8,3350.7L487.2,3350.7L472.6,3345.6ZM487.2,3345.3L492.8,3345.3L507.4,3351.9L507.4,3357.3L501.8,3357.3L487.2,3350.7ZM501.8,3351.9L507.4,3351.9L522,3359L522,3364.4L516.4,3364.4L501.8,3357.3ZM516.4,3359L522,3359L536.6,3367.3L536.6,3372.7L531,3372.7L516.4,3364.4ZM531,3367.3L536.6,3367.3L551.2,3375.4L551.2,3380.8L545.6,3380.8L531,3372.7ZM545.6,3375.4L551.2,3375.4L565.9,3379L565.9,3384.4L560.3,3384.4L545.6,3380.8ZM560.3,3379L565.9,3379L580.5,3380.1L580.5,3385.5L574.9,3385.5L560.3,3384.4ZM574.9,3380.1L589.5,3377.3L595.1,3377.3L595.1,3382.7L580.5,3385.5L574.9,3385.5ZM589.5,3377.3L604.1,3371.5L609.7,3371.5L609.7,3376.9L595.1,3382.7L589.5,3382.7ZM604.1,3371.5L618.7,3365.5L624.3,3365.5L624.3,3370.9L609.7,3376.9L604.1,3376.9ZM618.7,3365.5L633.3,3358.1L638.9,3358.1L638.9,3363.5L624.3,3370.9L618.7,3370.9ZM633.3,3358.1L647.9,3352.2L653.5,3352.2L653.5,3357.6L638.9,3363.5L633.3,3363.5ZM647.9,3352.2L662.6,3348.2L668.2,3348.2L668.2,3353.6L653.5,3357.6L647.9,3357.6ZM662.6,3348.2L677.2,3344.9L682.8,3344.9L682.8,3350.3L668.2,3353.6L662.6,3353.6ZM677.2,3344.9L691.8,3343.6L697.4,3343.6L697.4,3349L682.8,3350.3L677.2,3350.3ZM691.8,3343.6L697.4,3343.6L712,3348.1L712,3353.5L706.4,3353.5L691.8,3349ZM706.4,3348.1L712,3348.1L726.6,3354.5L726.6,3359.9L721,3359.9L706.4,3353.5ZM721,3354.5L726.6,3354.5L741.2,3362L741.2,3367.4L735.6,3367.4L721,3359.9ZM735.6,3362L741.2,3362L755.8,3369.6L755.8,3375L750.2,3375L735.6,3367.4ZM750.2,3369.6L755.8,3369.6L770.4,3377.1L770.4,3382.5L764.8,3382.5L750.2,3375ZM764.8,3377.1L770.4,3377.1L785.1,3384.2L785.1,3389.6L779.5,3389.6L764.8,3382.5ZM779.5,3384.2L785.1,3384.2L799.7,3392.3L799.7,3397.7L794.1,3397.7L779.5,3389.6ZM794.1,3392.3L799.7,3392.3L814.3,3396.8L814.3,3402.2L808.7,3402.2L794.1,3397.7ZM808.7,3396.8L823.3,3391.3L828.9,3391.3L828.9,3396.7L814.3,3402.2L808.7,3402.2ZM823.3,3391.3L837.9,3385.7L843.5,3385.7L843.5,3391.1L828.9,3396.7L823.3,3396.7ZM837.9,3385.7L843.5,3385.7L858.1,3386.6L858.1,3392L852.5,3392L837.9,3391.1ZM852.5,3386.6L858.1,3386.6L872.7,3387.5L872.7,3392.9L867.1,3392.9L852.5,3392ZM867.1,3387.5L881.7,3376.9L887.3,3376.9L887.3,3382.3L872.7,3392.9L867.1,3392.9ZM881.7,3376.9L896.4,3364.4L902,3364.4L902,3369.8L887.3,3382.3L881.7,3382.3ZM896.4,3364.4L911,3357L916.6,3357L916.6,3362.4L902,3369.8L896.4,3369.8ZM911,3357L916.6,3357L931.2,3369.2L931.2,3374.6L925.6,3374.6L911,3362.4ZM925.6,3369.2L931.2,3369.2L945.8,3384.7L945.8,3390.1L940.2,3390.1L925.6,3374.6ZM940.2,3384.7L945.8,3384.7L960.4,3396.7L960.4,3402.1L954.8,3402.1L940.2,3390.1ZM954.8,3396.7L960.4,3396.7L975,3407.8L975,3413.2L969.4,3413.2L954.8,3402.1ZM969.4,3407.8L975,3407.8L989.6,3424.1L989.6,3429.5L984,3429.5L969.4,3413.2ZM984,3424.1L989.6,3424.1L1004.3,3455.5L1004.3,3460.9L998.7,3460.9L984,3429.5ZM998.7,3455.5L1004.3,3455.5L1005.6,3458.2L1005.6,3463.6L1000,3463.6L998.7,3460.9ZM1000,3458.2L1020.2,3346.9L1025.8,3346.9L1025.8,3352.3L1005.6,3463.6L1000,3463.6ZM1020.2,3346.9L1032.1,3230.8L1037.7,3230.8L1037.7,3236.2L1025.8,3352.3L1020.2,3352.3ZM1032.1,3230.8L1041,3150.4L1046.6,3150.4L1046.6,3155.8L1037.7,3236.2L1032.1,3236.2ZM1041,3150.4L1055.9,3082L1061.5,3082L1061.5,3087.4L1046.6,3155.8L1041,3155.8ZM1055.9,3082L1061.5,3082L1077.9,3101.3L1077.9,3106.7L1072.3,3106.7L1055.9,3087.4ZM1072.3,3101.3L1077.9,3101.3L1094.2,3156.4L1094.2,3161.8L1088.6,3161.8L1072.3,3106.7ZM1088.6,3156.4L1094.2,3156.4L1112.1,3227.8L1112.1,3233.2L1106.5,3233.2L1088.6,3161.8ZM1106.5,3227.8L1112.1,3227.8L1127,3290.3L1127,3295.7L1121.4,3295.7L1106.5,3233.2ZM1121.4,3290.3L1127,3290.3L1150.8,3364.7L1150.8,3370.1L1145.2,3370.1L1121.4,3295.7ZM1145.2,3364.7L1150.8,3364.7L1177.6,3436.2L1177.6,3441.6L1172,3441.6L1145.2,3370.1ZM1172,3436.2L1177.6,3436.2L1187.5,3485.8L1187.5,3491.2L1181.9,3491.2L1172,3441.6ZM1181.9,3485.8L1187.5,3485.8L1202.3,3566.1L1202.3,3571.5L1196.7,3571.5L1181.9,3491.2ZM1196.7,3566.1L1202.3,3566.1L1217.2,3664.4L1217.2,3669.8L1211.6,3669.8L1196.7,3571.5ZM1211.6,3664.4L1217.2,3664.4L1226.1,3700.1L1226.1,3705.5L1220.5,3705.5L1211.6,3669.8ZM1220.5,3700.1L1226.1,3700.1L1236.6,3749.2L1236.6,3754.6L1231,3754.6L1220.5,3705.5ZM1231,3749.2L1254.4,3749.2L1254.4,3754.6L1231,3754.6ZM1248.8,3749.2L1262.2,3709L1267.8,3709L1267.8,3714.4L1254.4,3754.6L1248.8,3754.6ZM1262.2,3709L1274.1,3667.3L1279.7,3667.3L1279.7,3672.7L1267.8,3714.4L1262.2,3714.4ZM1274.1,3667.3L1292,3658.4L1297.6,3658.4L1297.6,3663.8L1279.7,3672.7L1274.1,3672.7ZM1292,3658.4L1297.6,3658.4L1312.5,3688.2L1312.5,3693.6L1306.9,3693.6L1292,3663.8ZM1306.9,3688.2L1312.5,3688.2L1327.4,3744.7L1327.4,3750.1L1321.8,3750.1L1306.9,3693.6ZM1321.8,3744.7L1327.4,3744.7L1345.2,3816.2L1345.2,3821.6L1339.6,3821.6L1321.8,3750.1ZM1339.6,3816.2L1345.2,3816.2L1405.7,4075.2L1405.7,4080.6L1400.1,4080.6L1339.6,3821.6ZM1400.1,4075.2L1405.7,4075.2L1422.9,4167.5L1422.9,4172.9L1417.3,4172.9L1400.1,4080.6ZM1417.3,4167.5L1422.9,4167.5L1430.7,4200.2L1430.7,4205.6L1425.1,4205.6L1417.3,4172.9ZM1425.1,4200.2L1430.7,4200.2L1438.1,4236L1438.1,4241.4L1432.5,4241.4L1425.1,4205.6Z" fill="#00ff00" stroke="none"/>
<path d="M268.4,3387.5L274,3387.5L288.2,3391.3L288.2,3396.7L282.6,3396.7L268.4,3392.9ZM282.6,3391.3L288.2,3391.3L302.8,3395.1L302.8,3400.5L297.2,3400.5L282.6,3396.7ZM297.2,3395.1L302.8,3395.1L317.4,3396.8L317.4,3402.2L311.8,3402.2L297.2,3400.5ZM311.8,3396.8L326.5,3392.5L332.1,3392.5L332.1,3397.9L317.4,3402.2L311.8,3402.2ZM326.5,3392.5L341.1,3384.4L346.7,3384.4L346.7,3389.8L332.1,3397.9L326.5,3397.9ZM341.1,3384.4L355.7,3380.1L361.3,3380.1L361.3,3385.5L346.7,3389.8L341.1,3389.8ZM355.7,3380.1L361.3,3380.1L375.9,3382.5L375.9,3387.9L370.3,3387.9L355.7,3385.5ZM370.3,3382.5L375.9,3382.5L390.5,3387L390.5,3392.4L384.9,3392.4L370.3,3387.9ZM384.9,3387L390.5,3387L405.1,3389.4L405.1,3394.8L399.5,3394.8L384.9,3392.4ZM399.5,3389.4L414.1,3387.5L419.7,3387.5L419.7,3392.9L405.1,3394.8L399.5,3394.8ZM414.1,3387.5L428.7,3383.9L434.3,3383.9L434.3,3389.3L419.7,3392.9L414.1,3392.9ZM428.7,3383.9L443.4,3382L449,3382L449,3387.4L434.3,3389.3L428.7,3389.3ZM443.4,3382L449,3382L463.6,3386.1L463.6,3391.5L458,3391.5L443.4,3387.4ZM458,3386.1L463.6,3386.1L478.2,3392.6L478.2,3398L472.6,3398L458,3391.5ZM472.6,3392.6L478.2,3392.6L492.8,3400.1L492.8,3405.5L487.2,3405.5L472.6,3398ZM487.2,3400.1L492.8,3400.1L507.4,3404.3L507.4,3409.7L501.8,3409.7L487.2,3405.5ZM501.8,3404.3L516.4,3401.5L522,3401.5L522,3406.9L507.4,3409.7L501.8,3409.7ZM516.4,3401.5L531,3398.7L536.6,3398.7L536.6,3404.1L522,3406.9L516.4,3406.9ZM531,3398.7L536.6,3398.7L551.2,3401.6L551.2,3407L545.6,3407L531,3404.1ZM545.6,3401.6L551.2,3401.6L565.9,3407L565.9,3412.4L560.3,3412.4L545.6,3407ZM560.3,3407L565.9,3407L580.5,3409.9L580.5,3415.3L574.9,3415.3L560.3,3412.4ZM574.9,3409.9L589.5,3407L595.1,3407L595.1,3412.4L580.5,3415.3L574.9,3415.3ZM589.5,3407L604.1,3393L609.7,3393L609.7,3398.4L595.1,3412.4L589.5,3412.4ZM604.1,3393L618.7,3376.6L624.3,3376.6L624.3,3382L609.7,3398.4L604.1,3398.4ZM618.7,3376.6L633.3,3368.9L638.9,3368.9L638.9,3374.3L624.3,3382L618.7,3382ZM633.3,3368.9L638.9,3368.9L653.5,3373.4L653.5,3378.8L647.9,3378.8L633.3,3374.3ZM647.9,3373.4L653.5,3373.4L668.2,3379.7L668.2,3385.1L662.6,3385.1L647.9,3378.8ZM662.6,3379.7L668.2,3379.7L682.8,3384.3L682.8,3389.7L677.2,3389.7L662.6,3385.1ZM677.2,3384.3L682.8,3384.3L697.4,3385.8L697.4,3391.2L691.8,3391.2L677.2,3389.7ZM691.8,3385.8L697.4,3385.8L712,3388.3L712,3393.7L706.4,3393.7L691.8,3391.2ZM706.4,3388.3L712,3388.3L726.6,3400.8L726.6,3406.2L721,3406.2L706.4,3393.7ZM721,3400.8L726.6,3400.8L741.2,3414.4L741.2,3419.8L735.6,3419.8L721,3406.2ZM735.6,3414.4L741.2,3414.4L755.8,3425.5L755.8,3430.9L750.2,3430.9L735.6,3419.8ZM750.2,3425.5L755.8,3425.5L770.4,3430.3L770.4,3435.7L764.8,3435.7L750.2,3430.9ZM764.8,3430.3L779.5,3427L785.1,3427L785.1,3432.4L770.4,3435.7L764.8,3435.7ZM779.5,3427L794.1,3421.9L799.7,3421.9L799.7,3427.3L785.1,3432.4L779.5,3432.4ZM794.1,3421.9L808.7,3421L814.3,3421L814.3,3426.4L799.7,3427.3L794.1,3427.3ZM808.7,3421L828.9,3421L828.9,3426.4L808.7,3426.4ZM823.3,3421L843.5,3421L843.5,3426.4L823.3,3426.4ZM837.9,3421L852.5,3417.7L858.1,3417.7L858.1,3423.1L843.5,3426.4L837.9,3426.4ZM852.5,3417.7L867.1,3411.4L872.7,3411.4L872.7,3416.8L858.1,3423.1L852.5,3423.1ZM867.1,3411.4L881.7,3408L887.3,3408L887.3,3413.4L872.7,3416.8L867.1,3416.8ZM881.7,3408L887.3,3408L902,3413.1L902,3418.5L896.4,3418.5L881.7,3413.4ZM896.4,3413.1L902,3413.1L916.6,3422.3L916.6,3427.7L911,3427.7L896.4,3418.5ZM911,3422.3L916.6,3422.3L931.2,3428.5L931.2,3433.9L925.6,3433.9L911,3427.7ZM925.6,3428.5L931.2,3428.5L945.8,3432.2L945.8,3437.6L940.2,3437.6L925.6,3433.9ZM940.2,3432.2L954.8,3428.5L960.4,3428.5L960.4,3433.9L945.8,3437.6L940.2,3437.6ZM954.8,3428.5L969.4,3424.7L975,3424.7L975,3430.1L960.4,3433.9L954.8,3433.9ZM969.4,3424.7L975,3424.7L989.6,3428.5L989.6,3433.9L984,3433.9L969.4,3430.1ZM984,3428.5L989.6,3428.5L1004.3,3432.2L1004.3,3437.6L998.7,3437.6L984,3433.9ZM998.7,3432.2L1013.3,3420.6L1018.9,3420.6L1018.9,3426L1004.3,3437.6L998.7,3437.6ZM1013.3,3420.6L1016.7,3417.3L1022.3,3417.3L1022.3,3422.7L1018.9,3426L1013.3,3426ZM1016.7,3417.3L1029.1,3373.7L1034.7,3373.7L1034.7,3379.1L1022.3,3422.7L1016.7,3422.7ZM1029.1,3373.7L1041,3338L1046.6,3338L1046.6,3343.4L1034.7,3379.1L1029.1,3379.1ZM1041,3338L1057.4,3315.6L1063,3315.6L1063,3321L1046.6,3343.4L1041,3343.4ZM1057.4,3315.6L1063,3315.6L1079.4,3324.6L1079.4,3330L1073.8,3330L1057.4,3321ZM1073.8,3324.6L1079.4,3324.6L1091.3,3340.9L1091.3,3346.3L1085.7,3346.3L1073.8,3330ZM1085.7,3340.9L1100.5,3338L1106.1,3338L1106.1,3343.4L1091.3,3346.3L1085.7,3346.3ZM1100.5,3338L1115.4,3311.2L1121,3311.2L1121,3316.6L1106.1,3343.4L1100.5,3343.4ZM1115.4,3311.2L1130.3,3285.9L1135.9,3285.9L1135.9,3291.3L1121,3316.6L1115.4,3316.6ZM1130.3,3285.9L1145.2,3282.9L1150.8,3282.9L1150.8,3288.3L1135.9,3291.3L1130.3,3291.3ZM1145.2,3282.9L1150.8,3282.9L1165.7,3308.2L1165.7,3313.6L1160.1,3313.6L1145.2,3288.3ZM1160.1,3308.2L1165.7,3308.2L1183.5,3355.8L1183.5,3361.2L1177.9,3361.2L1160.1,3313.6ZM1177.9,3355.8L1183.5,3355.8L1201.4,3436.2L1201.4,3441.6L1195.8,3441.6L1177.9,3361.2ZM1195.8,3436.2L1201.4,3436.2L1228.2,3536.4L1228.2,3541.8L1222.6,3541.8L1195.8,3441.6ZM1222.6,3536.4L1228.2,3536.4L1264.3,3670.3L1264.3,3675.7L1258.7,3675.7L1222.6,3541.8ZM1258.7,3670.3L1264.3,3670.3L1294,3753.7L1294,3759.1L1288.4,3759.1L1258.7,3675.7ZM1288.4,3753.7L1294,3753.7L1322.9,3816.2L1322.9,3821.6L1317.3,3821.6L1288.4,3759.1ZM1317.3,3816.2L1322.9,3816.2L1333.9,3846L1333.9,3851.4L1328.3,3851.4L1317.3,3821.6ZM1328.3,3846L1333.9,3846L1430.5,4200.2L1430.5,4205.6L1424.9,4205.6L1328.3,3851.4ZM1424.9,4200.2L1430.5,4200.2L1438,4230L1438,4235.4L1432.4,4235.4L1424.9,4205.6Z" fill="#00ffff" stroke="none"/>
<path d="M268.4,3379.3L274,3379.3L288.2,3380.4L288.2,3385.8L282.6,3385.8L268.4,3384.7ZM282.6,3380.4L288.2,3380.4L302.8,3381.5L302.8,3386.9L297.2,3386.9L282.6,3385.8ZM297.2,3381.5L302.8,3381.5L317.4,3382L317.4,3387.4L311.8,3387.4L297.2,3386.9ZM311.8,3382L326.5,3379.5L332.1,3379.5L332.1,3384.9L317.4,3387.4L311.8,3387.4ZM326.5,3379.5L341.1,3375.1L346.7,3375.1L346.7,3380.5L332.1,3384.9L326.5,3384.9ZM341.1,3375.1L355.7,3372.6L361.3,3372.6L361.3,3378L346.7,3380.5L341.1,3380.5ZM355.7,3372.6L361.3,3372.6L375.9,3374.5L375.9,3379.9L370.3,3379.9L355.7,3378ZM370.3,3374.5L375.9,3374.5L390.5,3376.4L390.5,3381.8L384.9,3381.8L370.3,3379.9ZM384.9,3376.4L399.5,3375.4L405.1,3375.4L405.1,3380.8L390.5,3381.8L384.9,3381.8ZM399.5,3375.4L414.1,3373.6L419.7,3373.6L419.7,3379L405.1,3380.8L399.5,3380.8ZM414.1,3373.6L428.7,3372.6L434.3,3372.6L434.3,3378L419.7,3379L414.1,3379ZM428.7,3372.6L434.3,3372.6L449,3375.3L449,3380.7L443.4,3380.7L428.7,3378ZM443.4,3375.3L449,3375.3L463.6,3381L463.6,3386.4L458,3386.4L443.4,3380.7ZM458,3381L463.6,3381L478.2,3386.8L478.2,3392.2L472.6,3392.2L458,3386.4ZM472.6,3386.8L478.2,3386.8L492.8,3389.4L492.8,3394.8L487.2,3394.8L472.6,3392.2ZM487.2,3389.4L501.8,3387.9L507.4,3387.9L507.4,3393.3L492.8,3394.8L487.2,3394.8ZM501.8,3387.9L516.4,3385.3L522,3385.3L522,3390.7L507.4,3393.3L501.8,3393.3ZM516.4,3385.3L531,3383.8L536.6,3383.8L536.6,3389.2L522,3390.7L516.4,3390.7ZM531,3383.8L536.6,3383.8L551.2,3385.7L551.2,3391.1L545.6,3391.1L531,3389.2ZM545.6,3385.7L551.2,3385.7L565.9,3387.5L565.9,3392.9L560.3,3392.9L545.6,3391.1ZM560.3,3387.5L574.9,3386L580.5,3386L580.5,3391.4L565.9,3392.9L560.3,3392.9ZM574.9,3386L589.5,3382.6L595.1,3382.6L595.1,3388L580.5,3391.4L574.9,3391.4ZM589.5,3382.6L604.1,3376.3L609.7,3376.3L609.7,3381.7L595.1,3388L589.5,3388ZM604.1,3376.3L618.7,3370.8L624.3,3370.8L624.3,3376.2L609.7,3381.7L604.1,3381.7ZM618.7,3370.8L624.3,3370.8L638.9,3371.7L638.9,3377.1L633.3,3377.1L618.7,3376.2ZM633.3,3371.7L638.9,3371.7L653.5,3373.4L653.5,3378.8L647.9,3378.8L633.3,3377.1ZM647.9,3373.4L653.5,3373.4L668.2,3375.9L668.2,3381.3L662.6,3381.3L647.9,3378.8ZM662.6,3375.9L668.2,3375.9L682.8,3378.7L682.8,3384.1L677.2,3384.1L662.6,3381.3ZM677.2,3378.7L682.8,3378.7L697.4,3381.3L697.4,3386.7L691.8,3386.7L677.2,3384.1ZM691.8,3381.3L697.4,3381.3L712,3384.3L712,3389.7L706.4,3389.7L691.8,3386.7ZM706.4,3384.3L712,3384.3L726.6,3390.3L726.6,3395.7L721,3395.7L706.4,3389.7ZM721,3390.3L726.6,3390.3L741.2,3399.1L741.2,3404.5L735.6,3404.5L721,3395.7ZM735.6,3399.1L741.2,3399.1L755.8,3401.2L755.8,3406.6L750.2,3406.6L735.6,3404.5ZM750.2,3401.2L755.8,3401.2L770.4,3402L770.4,3407.4L764.8,3407.4L750.2,3406.6ZM764.8,3402L770.4,3402L785.1,3402.4L785.1,3407.8L779.5,3407.8L764.8,3407.4ZM779.5,3402.4L799.7,3402.4L799.7,3407.8L779.5,3407.8ZM794.1,3402.4L814.3,3402.4L814.3,3407.8L794.1,3407.8ZM808.7,3402.4L828.9,3402.4L828.9,3407.8L808.7,3407.8ZM823.3,3402.4L843.5,3402.4L843.5,3407.8L823.3,3407.8ZM837.9,3402.4L852.5,3401.9L858.1,3401.9L858.1,3407.3L843.5,3407.8L837.9,3407.8ZM852.5,3401.9L867.1,3401L872.7,3401L872.7,3406.4L858.1,3407.3L852.5,3407.3ZM867.1,3401L881.7,3400.6L887.3,3400.6L887.3,3406L872.7,3406.4L867.1,3406.4ZM881.7,3400.6L887.3,3400.6L902,3405.3L902,3410.7L896.4,3410.7L881.7,3406ZM896.4,3405.3L902,3405.3L916.6,3413.5L916.6,3418.9L911,3418.9L896.4,3410.7ZM911,3413.5L916.6,3413.5L931.2,3421L931.2,3426.4L925.6,3426.4L911,3418.9ZM925.6,3421L940.2,3417.9L945.8,3417.9L945.8,3423.3L931.2,3426.4L925.6,3426.4ZM940.2,3417.9L954.8,3412.8L960.4,3412.8L960.4,3418.2L945.8,3423.3L940.2,3423.3ZM954.8,3412.8L969.4,3409.1L975,3409.1L975,3414.5L960.4,3418.2L954.8,3418.2ZM969.4,3409.1L975,3409.1L989.6,3415.1L989.6,3420.5L984,3420.5L969.4,3414.5ZM984,3415.1L989.6,3415.1L1004.3,3421L1004.3,3426.4L998.7,3426.4L984,3420.5ZM998.7,3421L1013.3,3412.3L1018.9,3412.3L1018.9,3417.7L1004.3,3426.4L998.7,3426.4ZM1013.3,3412.3L1016.7,3409.9L1022.3,3409.9L1022.3,3415.3L1018.9,3417.7L1013.3,3417.7ZM1016.7,3409.9L1032.1,3376.6L1037.7,3376.6L1037.7,3382L1022.3,3415.3L1016.7,3415.3ZM1032.1,3376.6L1041,3363.3L1046.6,3363.3L1046.6,3368.7L1037.7,3382L1032.1,3382ZM1041,3363.3L1055.9,3360.3L1061.5,3360.3L1061.5,3365.7L1046.6,3368.7L1041,3368.7ZM1055.9,3360.3L1061.5,3360.3L1076.4,3370.1L1076.4,3375.5L1070.8,3375.5L1055.9,3365.7ZM1070.8,3370.1L1087.2,3364.7L1092.8,3364.7L1092.8,3370.1L1076.4,3375.5L1070.8,3375.5ZM1087.2,3364.7L1094.6,3349.9L1100.2,3349.9L1100.2,3355.3L1092.8,3370.1L1087.2,3370.1ZM1094.6,3349.9L1109.5,3299.3L1115.1,3299.3L1115.1,3304.7L1100.2,3355.3L1094.6,3355.3ZM1109.5,3299.3L1128.8,3251L1134.4,3251L1134.4,3256.4L1115.1,3304.7L1109.5,3304.7ZM1128.8,3251L1134.4,3251L1150.8,3253.1L1150.8,3258.5L1145.2,3258.5L1128.8,3256.4ZM1145.2,3253.1L1150.8,3253.1L1162.7,3281.4L1162.7,3286.8L1157.1,3286.8L1145.2,3258.5ZM1157.1,3281.4L1162.7,3281.4L1177.6,3323.1L1177.6,3328.5L1172,3328.5L1157.1,3286.8ZM1172,3323.1L1177.6,3323.1L1192.5,3379.6L1192.5,3385L1186.9,3385L1172,3328.5ZM1186.9,3379.6L1192.5,3379.6L1204.4,3436.2L1204.4,3441.6L1198.8,3441.6L1186.9,3385ZM1198.8,3436.2L1204.4,3436.2L1232.1,3536.4L1232.1,3541.8L1226.5,3541.8L1198.8,3441.6ZM1226.5,3536.4L1232.1,3536.4L1267.8,3670.3L1267.8,3675.7L1262.2,3675.7L1226.5,3541.8ZM1262.2,3670.3L1267.8,3670.3L1297.6,3753.7L1297.6,3759.1L1292,3759.1L1262.2,3675.7ZM1292,3753.7L1297.6,3753.7L1324.4,3816.2L1324.4,3821.6L1318.8,3821.6L1292,3759.1ZM1318.8,3816.2L1324.4,3816.2L1334.4,3846L1334.4,3851.4L1328.8,3851.4L1318.8,3821.6ZM1328.8,3846L1334.4,3846L1430.7,4200.2L1430.7,4205.6L1425.1,4205.6L1328.8,3851.4ZM1425.1,4200.2L1430.7,4200.2L1438.1,4230L1438.1,4235.4L1432.5,4235.4L1425.1,4205.6Z" fill="#ff00ff" stroke="none"/>
<path d="M268.4,3354.8L274,3354.8L288.2,3359.6L288.2,3365L282.6,3365L268.4,3360.2ZM282.6,3359.6L297.2,3359.3L302.8,3359.3L302.8,3364.7L288.2,3365L282.6,3365ZM297.2,3359.3L311.8,3358.4L317.4,3358.4L317.4,3363.8L302.8,3364.7L297.2,3364.7ZM311.8,3358.4L326.5,3357.1L332.1,3357.1L332.1,3362.5L317.4,3363.8L311.8,3363.8ZM326.5,3357.1L341.1,3355.7L346.7,3355.7L346.7,3361.1L332.1,3362.5L326.5,3362.5ZM341.1,3355.7L355.7,3354.2L361.3,3354.2L361.3,3359.6L346.7,3361.1L341.1,3361.1ZM355.7,3354.2L370.3,3351.8L375.9,3351.8L375.9,3357.2L361.3,3359.6L355.7,3359.6ZM370.3,3351.8L384.9,3349.5L390.5,3349.5L390.5,3354.9L375.9,3357.2L370.3,3357.2ZM384.9,3349.5L399.5,3348.5L405.1,3348.5L405.1,3353.9L390.5,3354.9L384.9,3354.9ZM399.5,3348.5L405.1,3348.5L419.7,3348.9L419.7,3354.3L414.1,3354.3L399.5,3353.9ZM414.1,3348.9L419.7,3348.9L434.3,3350L434.3,3355.4L428.7,3355.4L414.1,3354.3ZM428.7,3350L434.3,3350L449,3351.5L449,3356.9L443.4,3356.9L428.7,3355.4ZM443.4,3351.5L449,3351.5L463.6,3353.2L463.6,3358.6L458,3358.6L443.4,3356.9ZM458,3353.2L463.6,3353.2L478.2,3354.9L478.2,3360.3L472.6,3360.3L458,3358.6ZM472.6,3354.9L478.2,3354.9L492.8,3356.9L492.8,3362.3L487.2,3362.3L472.6,3360.3ZM487.2,3356.9L492.8,3356.9L507.4,3359.4L507.4,3364.8L501.8,3364.8L487.2,3362.3ZM501.8,3359.4L507.4,3359.4L522,3363.5L522,3368.9L516.4,3368.9L501.8,3364.8ZM516.4,3363.5L522,3363.5L536.6,3368.4L536.6,3373.8L531,3373.8L516.4,3368.9ZM531,3368.4L536.6,3368.4L551.2,3370.8L551.2,3376.2L545.6,3376.2L531,3373.8ZM545.6,3370.8L560.3,3369.5L565.9,3369.5L565.9,3374.9L551.2,3376.2L545.6,3376.2ZM560.3,3369.5L574.9,3366.8L580.5,3366.8L580.5,3372.2L565.9,3374.9L560.3,3374.9ZM574.9,3366.8L589.5,3361.9L595.1,3361.9L595.1,3367.3L580.5,3372.2L574.9,3372.2ZM589.5,3361.9L604.1,3356.4L609.7,3356.4L609.7,3361.8L595.1,3367.3L589.5,3367.3ZM604.1,3356.4L618.7,3353.4L624.3,3353.4L624.3,3358.8L609.7,3361.8L604.1,3361.8ZM618.7,3353.4L633.3,3351.2L638.9,3351.2L638.9,3356.6L624.3,3358.8L618.7,3358.8ZM633.3,3351.2L647.9,3350.3L653.5,3350.3L653.5,3355.7L638.9,3356.6L633.3,3356.6ZM647.9,3350.3L653.5,3350.3L668.2,3351.2L668.2,3356.6L662.6,3356.6L647.9,3355.7ZM662.6,3351.2L668.2,3351.2L682.8,3353.2L682.8,3358.6L677.2,3358.6L662.6,3356.6ZM677.2,3353.2L682.8,3353.2L697.4,3355.7L697.4,3361.1L691.8,3361.1L677.2,3358.6ZM691.8,3355.7L697.4,3355.7L712,3358.8L712,3364.2L706.4,3364.2L691.8,3361.1ZM706.4,3358.8L712,3358.8L726.6,3362.7L726.6,3368.1L721,3368.1L706.4,3364.2ZM721,3362.7L726.6,3362.7L741.2,3366.7L741.2,3372.1L735.6,3372.1L721,3368.1ZM735.6,3366.7L741.2,3366.7L755.8,3371.7L755.8,3377.1L750.2,3377.1L735.6,3372.1ZM750.2,3371.7L755.8,3371.7L770.4,3376.3L770.4,3381.7L764.8,3381.7L750.2,3377.1ZM764.8,3376.3L770.4,3376.3L785.1,3378.2L785.1,3383.6L779.5,3383.6L764.8,3381.7ZM779.5,3378.2L794.1,3377.6L799.7,3377.6L799.7,3383L785.1,3383.6L779.5,3383.6ZM794.1,3377.6L808.7,3376.6L814.3,3376.6L814.3,3382L799.7,3383L794.1,3383ZM808.7,3376.6L823.3,3376.4L828.9,3376.4L828.9,3381.8L814.3,3382L808.7,3382ZM823.3,3376.4L843.5,3376.4L843.5,3381.8L823.3,3381.8ZM837.9,3376.4L858.1,3376.4L858.1,3381.8L837.9,3381.8ZM852.5,3376.4L872.7,3376.4L872.7,3381.8L852.5,3381.8ZM867.1,3376.4L872.7,3376.4L887.3,3382.2L887.3,3387.6L881.7,3387.6L867.1,3381.8ZM881.7,3382.2L887.3,3382.2L902,3391.5L902,3396.9L896.4,3396.9L881.7,3387.6ZM896.4,3391.5L902,3391.5L916.6,3398.7L916.6,3404.1L911,3404.1L896.4,3396.9ZM911,3398.7L925.6,3397.6L931.2,3397.6L931.2,3403L916.6,3404.1L911,3404.1ZM925.6,3397.6L940.2,3392.8L945.8,3392.8L945.8,3398.2L931.2,3403L925.6,3403ZM940.2,3392.8L954.8,3383.1L960.4,3383.1L960.4,3388.5L945.8,3398.2L940.2,3398.2ZM954.8,3383.1L969.4,3376L975,3376L975,3381.4L960.4,3388.5L954.8,3388.5ZM969.4,3376L984,3367.7L989.6,3367.7L989.6,3373.1L975,3381.4L969.4,3381.4ZM984,3367.7L998.7,3356.8L1004.3,3356.8L1004.3,3362.2L989.6,3373.1L984,3373.1ZM998.7,3356.8L1013.3,3355L1018.9,3355L1018.9,3360.4L1004.3,3362.2L998.7,3362.2ZM1013.3,3355L1016.7,3354.8L1022.3,3354.8L1022.3,3360.2L1018.9,3360.4L1013.3,3360.4ZM1016.7,3354.8L1022.3,3354.8L1031.7,3358.8L1031.7,3364.2L1026.1,3364.2L1016.7,3360.2ZM1026.1,3358.8L1031.7,3358.8L1046.6,3394.5L1046.6,3399.9L1041,3399.9L1026.1,3364.2ZM1041,3394.5L1046.6,3394.5L1063,3427.3L1063,3432.7L1057.4,3432.7L1041,3399.9ZM1057.4,3427.3L1072.3,3416.8L1077.9,3416.8L1077.9,3422.2L1063,3432.7L1057.4,3432.7ZM1072.3,3416.8L1085.7,3358.8L1091.3,3358.8L1091.3,3364.2L1077.9,3422.2L1072.3,3422.2ZM1085.7,3358.8L1100.5,3260.6L1106.1,3260.6L1106.1,3266L1091.3,3364.2L1085.7,3364.2ZM1100.5,3260.6L1115.4,3196.6L1121,3196.6L1121,3202L1106.1,3266L1100.5,3266ZM1115.4,3196.6L1130.3,3188.5L1135.9,3188.5L1135.9,3193.9L1121,3202L1115.4,3202ZM1130.3,3188.5L1135.9,3188.5L1152.3,3220.4L1152.3,3225.8L1146.7,3225.8L1130.3,3193.9ZM1146.7,3220.4L1152.3,3220.4L1165.7,3263.5L1165.7,3268.9L1160.1,3268.9L1146.7,3225.8ZM1160.1,3263.5L1165.7,3263.5L1180.6,3314.1L1180.6,3319.5L1175,3319.5L1160.1,3268.9ZM1175,3314.1L1180.6,3314.1L1195.5,3373.7L1195.5,3379.1L1189.9,3379.1L1175,3319.5ZM1189.9,3373.7L1195.5,3373.7L1210.3,3436.2L1210.3,3441.6L1204.7,3441.6L1189.9,3379.1ZM1204.7,3436.2L1210.3,3436.2L1238.1,3536.4L1238.1,3541.8L1232.5,3541.8L1204.7,3441.6ZM1232.5,3536.4L1238.1,3536.4L1273.8,3670.3L1273.8,3675.7L1268.2,3675.7L1232.5,3541.8ZM1268.2,3670.3L1273.8,3670.3L1303.5,3753.7L1303.5,3759.1L1297.9,3759.1L1268.2,3675.7ZM1297.9,3753.7L1303.5,3753.7L1328.8,3816.2L1328.8,3821.6L1323.2,3821.6L1297.9,3759.1ZM1323.2,3816.2L1328.8,3816.2L1431,4200.2L1431,4205.6L1425.4,4205.6L1323.2,3821.6ZM1425.4,4200.2L1431,4200.2L1438.4,4230L1438.4,4235.4L1432.8,4235.4L1425.4,4205.6Z" fill="#669900" stroke="none"/>
<path d="M268,3347.1L1269.3,3347.1L1269.3,3353.9L268,3353.9ZM1263.7,3347.1L1269.3,3347.1L1448.8,4199.6L1448.8,4206.4L1443.2,4206.4L1263.7,3353.9ZM1443.2,4199.6L1448.8,4199.6L1455.1,4229.6L1455.1,4236.4L1449.5,4236.4L1443.2,4206.4Z" fill="#000000" stroke="none"/>
</g>
<rect x="277.60" y="3607.50" width="651.80" height="581.40" fill="#fff" stroke="#262626" stroke-width="3.2"/>
<g>
<line x1="285.60" y1="3649.30" x2="357.90" y2="3649.30" stroke="#0000ff" stroke-width="5"/>
<text transform="translate(366.45 3671.70) scale(0.9977 1.0445)" font-family="'Liberation Sans', sans-serif" font-size="58" fill="#000" stroke="#000" stroke-width="0.62231" stroke-linejoin="round">ESSWnew,  </text>
<text transform="translate(689.30 3671.73) scale(1.1498 1.0341)" font-family="'Liberation Serif', serif" font-size="58" fill="#000" stroke="#000" stroke-width="0.434844" stroke-linejoin="round">β</text>
<text transform="translate(727.36 3671.69) scale(1.0043 0.7383)" font-family="'Liberation Sans', sans-serif" font-size="58" fill="#000" stroke="#000" stroke-width="1.69271" stroke-linejoin="round">=</text>
<text transform="translate(761.13 3671.70) scale(1.0000 1.0510)" font-family="'Liberation Sans', sans-serif" font-size="58.5" fill="#000" stroke="#000" stroke-width="0.618458" stroke-linejoin="round">1.5</text>
</g>
<g>
<line x1="285.60" y1="3732.50" x2="357.90" y2="3732.50" stroke="#ff0000" stroke-width="5"/>
<text transform="translate(366.45 3754.90) scale(0.9977 1.0445)" font-family="'Liberation Sans', sans-serif" font-size="58" fill="#000" stroke="#000" stroke-width="0.62231" stroke-linejoin="round">ESSWnew,  </text>
<text transform="translate(689.30 3754.93) scale(1.1498 1.0341)" font-family="'Liberation Serif', serif" font-size="58" fill="#000" stroke="#000" stroke-width="0.434844" stroke-linejoin="round">β</text>
<text transform="translate(727.36 3754.89) scale(1.0043 0.7383)" font-family="'Liberation Sans', sans-serif" font-size="58" fill="#000" stroke="#000" stroke-width="1.69271" stroke-linejoin="round">=</text>
<text transform="translate(761.13 3754.90) scale(1.0000 1.0356)" font-family="'Liberation Sans', sans-serif" font-size="58.5" fill="#000" stroke="#000" stroke-width="0.627675" stroke-linejoin="round">2.5</text>
</g>
<g>
<line x1="285.60" y1="3815.50" x2="357.90" y2="3815.50" stroke="#00ff00" stroke-width="6.8"/>
<text transform="translate(366.45 3837.90) scale(0.9977 1.0445)" font-family="'Liberation Sans', sans-serif" font-size="58" fill="#000" stroke="#000" stroke-width="0.62231" stroke-linejoin="round">ESSWnew,  </text>
<text transform="translate(689.30 3837.93) scale(1.1498 1.0341)" font-family="'Liberation Serif', serif" font-size="58" fill="#000" stroke="#000" stroke-width="0.434844" stroke-linejoin="round">β</text>
<text transform="translate(727.36 3837.89) scale(1.0043 0.7383)" font-family="'Liberation Sans', sans-serif" font-size="58" fill="#000" stroke="#000" stroke-width="1.69271" stroke-linejoin="round">=</text>
<text transform="translate(761.60 3837.90) scale(1.0000 1.0356)" font-family="'Liberation Sans', sans-serif" font-size="58.5" fill="#000" stroke="#000" stroke-width="0.627675" stroke-linejoin="round">25.5</text>
</g>
<g>
<line x1="285.60" y1="3898.30" x2="357.90" y2="3898.30" stroke="#00ffff" stroke-width="4.9"/>
<text transform="translate(366.44 3920.70) scale(0.9997 1.0445)" font-family="'Liberation Sans', sans-serif" font-size="58" fill="#000" stroke="#000" stroke-width="0.62231" stroke-linejoin="round">ESSW, </text>
<text transform="translate(569.40 3920.73) scale(1.1498 1.0341)" font-family="'Liberation Serif', serif" font-size="58" fill="#000" stroke="#000" stroke-width="0.434844" stroke-linejoin="round">β</text>
<text transform="translate(607.46 3920.69) scale(1.0043 0.7383)" font-family="'Liberation Sans', sans-serif" font-size="58" fill="#000" stroke="#000" stroke-width="1.69271" stroke-linejoin="round">=</text>
<text transform="translate(641.23 3920.70) scale(1.0000 1.0510)" font-family="'Liberation Sans', sans-serif" font-size="58.5" fill="#000" stroke="#000" stroke-width="0.618458" stroke-linejoin="round">1.5</text>
</g>
<g>
<line x1="285.60" y1="3981.70" x2="357.90" y2="3981.70" stroke="#ff00ff" stroke-width="4.9"/>
<text transform="translate(366.44 4004.10) scale(0.9997 1.0445)" font-family="'Liberation Sans', sans-serif" font-size="58" fill="#000" stroke="#000" stroke-width="0.62231" stroke-linejoin="round">ESSW, </text>
<text transform="translate(569.40 4004.13) scale(1.1498 1.0341)" font-family="'Liberation Serif', serif" font-size="58" fill="#000" stroke="#000" stroke-width="0.434844" stroke-linejoin="round">β</text>
<text transform="translate(607.46 4004.09) scale(1.0043 0.7383)" font-family="'Liberation Sans', sans-serif" font-size="58" fill="#000" stroke="#000" stroke-width="1.69271" stroke-linejoin="round">=</text>
<text transform="translate(641.23 4004.10) scale(1.0000 1.0356)" font-family="'Liberation Sans', sans-serif" font-size="58.5" fill="#000" stroke="#000" stroke-width="0.627675" stroke-linejoin="round">2.5</text>
</g>
<g>
<line x1="285.60" y1="4064.40" x2="357.90" y2="4064.40" stroke="#669900" stroke-width="6.6"/>
<text transform="translate(366.44 4086.80) scale(0.9997 1.0445)" font-family="'Liberation Sans', sans-serif" font-size="58" fill="#000" stroke="#000" stroke-width="0.62231" stroke-linejoin="round">ESSW, </text>
<text transform="translate(569.40 4086.83) scale(1.1498 1.0341)" font-family="'Liberation Serif', serif" font-size="58" fill="#000" stroke="#000" stroke-width="0.434844" stroke-linejoin="round">β</text>
<text transform="translate(607.46 4086.79) scale(1.0043 0.7383)" font-family="'Liberation Sans', sans-serif" font-size="58" fill="#000" stroke="#000" stroke-width="1.69271" stroke-linejoin="round">=</text>
<text transform="translate(641.70 4086.80) scale(1.0000 1.0356)" font-family="'Liberation Sans', sans-serif" font-size="58.5" fill="#000" stroke="#000" stroke-width="0.627675" stroke-linejoin="round">25.5</text>
</g>
<g>
<line x1="285.60" y1="4147.70" x2="357.90" y2="4147.70" stroke="#000000" stroke-width="6.3"/>
<text transform="translate(366.49 4177.70) scale(0.9909 1.0601)" font-family="'Liberation Sans', sans-serif" font-size="58" fill="#000" stroke="#000" stroke-width="0.613172" stroke-linejoin="round">Exact</text>
</g>
</svg>
</body>
</html>
